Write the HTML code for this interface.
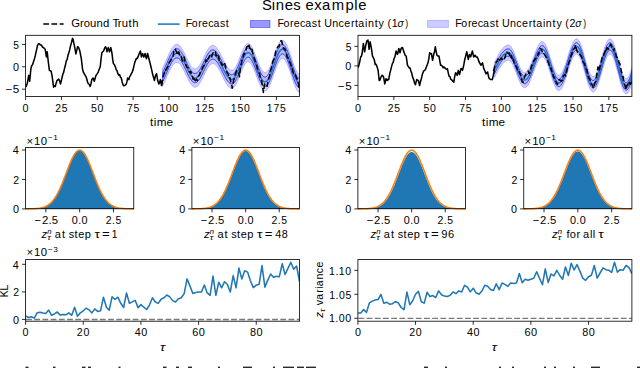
<!DOCTYPE html><html><head><meta charset="utf-8"><title>Sines example</title><style>html,body{margin:0;padding:0;background:#fff;overflow:hidden}svg{display:block}text{font-family:"Liberation Sans",sans-serif;fill:#000;font-variant-ligatures:none}</style></head><body>
<svg width="640" height="368" viewBox="0 0 640 368">
<rect width="640" height="368" fill="#fff"/>
<text transform="scale(0.99058,1)" x="264.51 274.36 278.46 287.47 296.17 303.58 308.46 317.28 325.05 335 348.75 357.75 361.72" y="10" font-size="15.02">Sines example</text>
<line x1="43.3" y1="23.9" x2="63.6" y2="23.9" stroke="#000" stroke-width="1.54" stroke-dasharray="5.7 2.47"/>
<text transform="scale(1.04910,1)" x="68 76.36 79.77 85.83 92.06 98.19 104.33 107.14 112.36 116.07 122.57 126.12" y="27" font-size="10.76">Ground Truth</text>
<line x1="157.9" y1="24.1" x2="179.6" y2="24.1" stroke="#1f77b4" stroke-width="1.54"/>
<text transform="scale(0.97692,1)" x="190.1 196.27 203.04 206.81 213.08 218.61 225.32 231.21" y="27" font-size="10.76">Forecast</text>
<rect x="250.5" y="20.5" width="19.5" height="7" fill="#0000ff" fill-opacity="0.4" stroke="#0000ff" stroke-opacity="0.4" stroke-width="1"/>
<text transform="scale(0.99566,1)" x="278.66 284.72 291.38 295.06 301.22 306.63 313.23 319.03 322.57 325.72 333.67 339.92 345.75 352.42 356.62 359.94 366.71 369.62 376.35 380.25 385.98 389.2 393.5" y="27" font-size="10.76">Forecast Uncertainty (1</text>
<text transform="scale(0.95470,1)" x="416.32" y="27" font-size="10.76" font-style="italic">σ</text>
<text transform="scale(0.80505,1)" x="503.39" y="27" font-size="10.76">)</text>
<rect x="427.6" y="20.4" width="20.8" height="7" fill="#0000ff" fill-opacity="0.2" stroke="#0000ff" stroke-opacity="0.2" stroke-width="1"/>
<text transform="scale(0.99604,1)" x="457.06 463.12 469.78 473.45 479.61 485.02 491.62 497.41 500.95 504.1 512.05 518.29 524.13 530.79 534.99 538.31 545.08 547.99 554.72 558.61 564.34 567.56 571.77" y="27" font-size="10.76">Forecast Uncertainty (2</text>
<text transform="scale(0.95470,1)" x="602.55" y="27" font-size="10.76" font-style="italic">σ</text>
<text transform="scale(0.80505,1)" x="724.49" y="27" font-size="10.76">)</text>
<clipPath id="clip1"><rect x="25.6" y="35.3" width="273.9" height="61.2"/></clipPath>
<g clip-path="url(#clip1)">
<polygon points="162.5,68.04 163.2,66.65 163.9,65.19 164.6,63.66 165.3,62.09 166,60.49 166.7,58.87 167.4,57.27 168.1,55.68 168.8,54.14 169.5,52.66 170.2,51.25 170.9,49.93 171.6,48.72 172.3,47.63 173,46.66 173.7,45.84 174.4,45.17 175.1,44.66 175.8,44.31 176.5,44.13 177.2,44.12 177.9,44.29 178.6,44.64 179.3,45.16 180,45.85 180.7,46.7 181.4,47.69 182.1,48.82 182.8,50.05 183.5,51.38 184.2,52.79 184.9,54.25 185.6,55.75 186.3,57.25 187,58.75 187.7,60.21 188.4,61.62 189.1,62.95 189.8,64.18 190.5,65.31 191.2,66.3 191.9,67.15 192.6,67.84 193.3,68.36 194,68.71 194.7,68.88 195.4,68.87 196.1,68.68 196.8,68.31 197.5,67.77 198.2,67.07 198.9,66.21 199.6,65.22 200.3,64.1 201,62.88 201.7,61.57 202.4,60.19 203.1,58.76 203.8,57.31 204.5,55.85 205.2,54.42 205.9,53.02 206.6,51.69 207.3,50.44 208,49.29 208.7,48.26 209.4,47.36 210.1,46.61 210.8,46.03 211.5,45.61 212.2,45.37 212.9,45.3 213.6,45.41 214.3,45.68 215,46.11 215.7,46.69 216.4,47.42 217.1,48.29 217.8,49.28 218.5,50.38 219.2,51.58 219.9,52.87 220.6,54.22 221.3,55.61 222,57.03 222.7,58.47 223.4,59.89 224.1,61.28 224.8,62.63 225.5,63.92 226.2,65.12 226.9,66.22 227.6,67.21 228.3,68.08 229,68.81 229.7,69.39 230.4,69.82 231.1,70.09 231.8,70.2 232.5,70.11 233.2,69.78 233.9,69.2 234.6,68.4 235.3,67.39 236,66.18 236.7,64.8 237.4,63.27 238.1,61.63 238.8,59.89 239.5,58.1 240.2,56.28 240.9,54.47 241.6,52.71 242.3,51.02 243,49.44 243.7,47.99 244.4,46.7 245.1,45.6 245.8,44.71 246.5,44.04 247.2,43.6 247.9,43.41 248.6,43.46 249.3,43.76 250,44.3 250.7,45.07 251.4,46.06 252.1,47.25 252.8,48.62 253.5,50.15 254.2,51.81 254.9,53.57 255.6,55.41 256.3,57.3 257,59.19 257.7,61.07 258.4,62.89 259.1,64.63 259.8,66.25 260.5,67.74 261.2,69.06 261.9,70.2 262.6,71.12 263.3,71.83 264,72.3 264.7,72.53 265.4,72.51 266.1,72.23 266.8,71.71 267.5,70.94 268.2,69.95 268.9,68.73 269.6,67.33 270.3,65.74 271,64.01 271.7,62.16 272.4,60.22 273.1,58.21 273.8,56.18 274.5,54.15 275.2,52.15 275.9,50.22 276.6,48.38 277.3,46.67 278,45.11 278.7,43.73 279.4,42.55 280.1,41.58 280.8,40.85 281.5,40.36 282.2,40.12 282.9,40.14 283.6,40.43 284.3,40.99 285,41.79 285.7,42.84 286.4,44.12 287.1,45.61 287.8,47.27 288.5,49.1 289.2,51.05 289.9,53.1 290.6,55.21 291.3,57.35 292,59.5 292.7,61.6 293.4,63.64 294.1,65.57 294.8,67.37 295.5,69.02 296.2,70.47 296.9,71.72 297.6,72.74 298.3,73.51 299,74.03 299.7,74.28 300.4,74.3 300.4,78.9 299.7,78.88 299,78.63 298.3,78.11 297.6,77.34 296.9,76.32 296.2,75.07 295.5,73.62 294.8,71.97 294.1,70.17 293.4,68.24 292.7,66.2 292,64.1 291.3,61.95 290.6,59.81 289.9,57.7 289.2,55.65 288.5,53.7 287.8,51.87 287.1,50.21 286.4,48.72 285.7,47.44 285,46.39 284.3,45.59 283.6,45.03 282.9,44.74 282.2,44.72 281.5,44.96 280.8,45.45 280.1,46.18 279.4,47.15 278.7,48.33 278,49.71 277.3,51.27 276.6,52.98 275.9,54.82 275.2,56.75 274.5,58.75 273.8,60.78 273.1,62.81 272.4,64.82 271.7,66.76 271,68.61 270.3,70.34 269.6,71.93 268.9,73.33 268.2,74.55 267.5,75.54 266.8,76.31 266.1,76.83 265.4,77.11 264.7,77.13 264,76.9 263.3,76.43 262.6,75.72 261.9,74.8 261.2,73.66 260.5,72.34 259.8,70.85 259.1,69.23 258.4,67.49 257.7,65.67 257,63.79 256.3,61.9 255.6,60.01 254.9,58.17 254.2,56.41 253.5,54.75 252.8,53.22 252.1,51.85 251.4,50.66 250.7,49.67 250,48.9 249.3,48.36 248.6,48.06 247.9,48.01 247.2,48.2 246.5,48.64 245.8,49.31 245.1,50.2 244.4,51.3 243.7,52.59 243,54.04 242.3,55.62 241.6,57.31 240.9,59.07 240.2,60.88 239.5,62.7 238.8,64.49 238.1,66.23 237.4,67.87 236.7,69.4 236,70.78 235.3,71.99 234.6,73 233.9,73.8 233.2,74.38 232.5,74.71 231.8,74.8 231.1,74.69 230.4,74.42 229.7,73.99 229,73.41 228.3,72.68 227.6,71.81 226.9,70.82 226.2,69.72 225.5,68.52 224.8,67.23 224.1,65.88 223.4,64.49 222.7,63.07 222,61.63 221.3,60.21 220.6,58.82 219.9,57.47 219.2,56.18 218.5,54.98 217.8,53.88 217.1,52.89 216.4,52.02 215.7,51.29 215,50.71 214.3,50.28 213.6,50.01 212.9,49.9 212.2,49.97 211.5,50.21 210.8,50.63 210.1,51.21 209.4,51.96 208.7,52.86 208,53.89 207.3,55.04 206.6,56.29 205.9,57.62 205.2,59.02 204.5,60.45 203.8,61.91 203.1,63.36 202.4,64.79 201.7,66.17 201,67.48 200.3,68.7 199.6,69.82 198.9,70.81 198.2,71.67 197.5,72.37 196.8,72.91 196.1,73.28 195.4,73.47 194.7,73.48 194,73.31 193.3,72.96 192.6,72.44 191.9,71.75 191.2,70.9 190.5,69.91 189.8,68.78 189.1,67.55 188.4,66.22 187.7,64.81 187,63.35 186.3,61.85 185.6,60.35 184.9,58.85 184.2,57.39 183.5,55.98 182.8,54.65 182.1,53.42 181.4,52.29 180.7,51.3 180,50.45 179.3,49.76 178.6,49.24 177.9,48.89 177.2,48.72 176.5,48.73 175.8,48.91 175.1,49.26 174.4,49.77 173.7,50.44 173,51.26 172.3,52.23 171.6,53.32 170.9,54.53 170.2,55.85 169.5,57.26 168.8,58.74 168.1,60.28 167.4,61.87 166.7,63.47 166,65.09 165.3,66.69 164.6,68.26 163.9,69.79 163.2,71.25 162.5,72.64" fill="#0000ff" fill-opacity="0.2" stroke="#0000ff" stroke-opacity="0.2" stroke-width="1"/>
<polygon points="162.5,81.84 163.2,80.45 163.9,78.99 164.6,77.46 165.3,75.89 166,74.29 166.7,72.67 167.4,71.07 168.1,69.48 168.8,67.94 169.5,66.46 170.2,65.05 170.9,63.73 171.6,62.52 172.3,61.43 173,60.46 173.7,59.64 174.4,58.97 175.1,58.46 175.8,58.11 176.5,57.93 177.2,57.92 177.9,58.09 178.6,58.44 179.3,58.96 180,59.65 180.7,60.5 181.4,61.49 182.1,62.62 182.8,63.85 183.5,65.18 184.2,66.59 184.9,68.05 185.6,69.55 186.3,71.05 187,72.55 187.7,74.01 188.4,75.42 189.1,76.75 189.8,77.98 190.5,79.11 191.2,80.1 191.9,80.95 192.6,81.64 193.3,82.16 194,82.51 194.7,82.68 195.4,82.67 196.1,82.48 196.8,82.11 197.5,81.57 198.2,80.87 198.9,80.01 199.6,79.02 200.3,77.9 201,76.68 201.7,75.37 202.4,73.99 203.1,72.56 203.8,71.11 204.5,69.65 205.2,68.22 205.9,66.82 206.6,65.49 207.3,64.24 208,63.09 208.7,62.06 209.4,61.16 210.1,60.41 210.8,59.83 211.5,59.41 212.2,59.17 212.9,59.1 213.6,59.21 214.3,59.48 215,59.91 215.7,60.49 216.4,61.22 217.1,62.09 217.8,63.08 218.5,64.18 219.2,65.38 219.9,66.67 220.6,68.02 221.3,69.41 222,70.83 222.7,72.27 223.4,73.69 224.1,75.08 224.8,76.43 225.5,77.72 226.2,78.92 226.9,80.02 227.6,81.01 228.3,81.88 229,82.61 229.7,83.19 230.4,83.62 231.1,83.89 231.8,84 232.5,83.91 233.2,83.58 233.9,83 234.6,82.2 235.3,81.19 236,79.98 236.7,78.6 237.4,77.07 238.1,75.43 238.8,73.69 239.5,71.9 240.2,70.08 240.9,68.27 241.6,66.51 242.3,64.82 243,63.24 243.7,61.79 244.4,60.5 245.1,59.4 245.8,58.51 246.5,57.84 247.2,57.4 247.9,57.21 248.6,57.26 249.3,57.56 250,58.1 250.7,58.87 251.4,59.86 252.1,61.05 252.8,62.42 253.5,63.95 254.2,65.61 254.9,67.37 255.6,69.21 256.3,71.1 257,72.99 257.7,74.87 258.4,76.69 259.1,78.43 259.8,80.05 260.5,81.54 261.2,82.86 261.9,84 262.6,84.92 263.3,85.63 264,86.1 264.7,86.33 265.4,86.31 266.1,86.03 266.8,85.51 267.5,84.74 268.2,83.75 268.9,82.53 269.6,81.13 270.3,79.54 271,77.81 271.7,75.96 272.4,74.02 273.1,72.01 273.8,69.98 274.5,67.95 275.2,65.95 275.9,64.02 276.6,62.18 277.3,60.47 278,58.91 278.7,57.53 279.4,56.35 280.1,55.38 280.8,54.65 281.5,54.16 282.2,53.92 282.9,53.94 283.6,54.23 284.3,54.79 285,55.59 285.7,56.64 286.4,57.92 287.1,59.41 287.8,61.07 288.5,62.9 289.2,64.85 289.9,66.9 290.6,69.01 291.3,71.15 292,73.3 292.7,75.4 293.4,77.44 294.1,79.37 294.8,81.17 295.5,82.82 296.2,84.27 296.9,85.52 297.6,86.54 298.3,87.31 299,87.83 299.7,88.08 300.4,88.1 300.4,92.7 299.7,92.68 299,92.43 298.3,91.91 297.6,91.14 296.9,90.12 296.2,88.87 295.5,87.42 294.8,85.77 294.1,83.97 293.4,82.04 292.7,80 292,77.9 291.3,75.75 290.6,73.61 289.9,71.5 289.2,69.45 288.5,67.5 287.8,65.67 287.1,64.01 286.4,62.52 285.7,61.24 285,60.19 284.3,59.39 283.6,58.83 282.9,58.54 282.2,58.52 281.5,58.76 280.8,59.25 280.1,59.98 279.4,60.95 278.7,62.13 278,63.51 277.3,65.07 276.6,66.78 275.9,68.62 275.2,70.55 274.5,72.55 273.8,74.58 273.1,76.61 272.4,78.62 271.7,80.56 271,82.41 270.3,84.14 269.6,85.73 268.9,87.13 268.2,88.35 267.5,89.34 266.8,90.11 266.1,90.63 265.4,90.91 264.7,90.93 264,90.7 263.3,90.23 262.6,89.52 261.9,88.6 261.2,87.46 260.5,86.14 259.8,84.65 259.1,83.03 258.4,81.29 257.7,79.47 257,77.59 256.3,75.7 255.6,73.81 254.9,71.97 254.2,70.21 253.5,68.55 252.8,67.02 252.1,65.65 251.4,64.46 250.7,63.47 250,62.7 249.3,62.16 248.6,61.86 247.9,61.81 247.2,62 246.5,62.44 245.8,63.11 245.1,64 244.4,65.1 243.7,66.39 243,67.84 242.3,69.42 241.6,71.11 240.9,72.87 240.2,74.68 239.5,76.5 238.8,78.29 238.1,80.03 237.4,81.67 236.7,83.2 236,84.58 235.3,85.79 234.6,86.8 233.9,87.6 233.2,88.18 232.5,88.51 231.8,88.6 231.1,88.49 230.4,88.22 229.7,87.79 229,87.21 228.3,86.48 227.6,85.61 226.9,84.62 226.2,83.52 225.5,82.32 224.8,81.03 224.1,79.68 223.4,78.29 222.7,76.87 222,75.43 221.3,74.01 220.6,72.62 219.9,71.27 219.2,69.98 218.5,68.78 217.8,67.68 217.1,66.69 216.4,65.82 215.7,65.09 215,64.51 214.3,64.08 213.6,63.81 212.9,63.7 212.2,63.77 211.5,64.01 210.8,64.43 210.1,65.01 209.4,65.76 208.7,66.66 208,67.69 207.3,68.84 206.6,70.09 205.9,71.42 205.2,72.82 204.5,74.25 203.8,75.71 203.1,77.16 202.4,78.59 201.7,79.97 201,81.28 200.3,82.5 199.6,83.62 198.9,84.61 198.2,85.47 197.5,86.17 196.8,86.71 196.1,87.08 195.4,87.27 194.7,87.28 194,87.11 193.3,86.76 192.6,86.24 191.9,85.55 191.2,84.7 190.5,83.71 189.8,82.58 189.1,81.35 188.4,80.02 187.7,78.61 187,77.15 186.3,75.65 185.6,74.15 184.9,72.65 184.2,71.19 183.5,69.78 182.8,68.45 182.1,67.22 181.4,66.09 180.7,65.1 180,64.25 179.3,63.56 178.6,63.04 177.9,62.69 177.2,62.52 176.5,62.53 175.8,62.71 175.1,63.06 174.4,63.57 173.7,64.24 173,65.06 172.3,66.03 171.6,67.12 170.9,68.33 170.2,69.65 169.5,71.06 168.8,72.54 168.1,74.08 167.4,75.67 166.7,77.27 166,78.89 165.3,80.49 164.6,82.06 163.9,83.59 163.2,85.05 162.5,86.44" fill="#0000ff" fill-opacity="0.2" stroke="#0000ff" stroke-opacity="0.2" stroke-width="1"/>
<polygon points="162.5,72.64 163.2,71.25 163.9,69.79 164.6,68.26 165.3,66.69 166,65.09 166.7,63.47 167.4,61.87 168.1,60.28 168.8,58.74 169.5,57.26 170.2,55.85 170.9,54.53 171.6,53.32 172.3,52.23 173,51.26 173.7,50.44 174.4,49.77 175.1,49.26 175.8,48.91 176.5,48.73 177.2,48.72 177.9,48.89 178.6,49.24 179.3,49.76 180,50.45 180.7,51.3 181.4,52.29 182.1,53.42 182.8,54.65 183.5,55.98 184.2,57.39 184.9,58.85 185.6,60.35 186.3,61.85 187,63.35 187.7,64.81 188.4,66.22 189.1,67.55 189.8,68.78 190.5,69.91 191.2,70.9 191.9,71.75 192.6,72.44 193.3,72.96 194,73.31 194.7,73.48 195.4,73.47 196.1,73.28 196.8,72.91 197.5,72.37 198.2,71.67 198.9,70.81 199.6,69.82 200.3,68.7 201,67.48 201.7,66.17 202.4,64.79 203.1,63.36 203.8,61.91 204.5,60.45 205.2,59.02 205.9,57.62 206.6,56.29 207.3,55.04 208,53.89 208.7,52.86 209.4,51.96 210.1,51.21 210.8,50.63 211.5,50.21 212.2,49.97 212.9,49.9 213.6,50.01 214.3,50.28 215,50.71 215.7,51.29 216.4,52.02 217.1,52.89 217.8,53.88 218.5,54.98 219.2,56.18 219.9,57.47 220.6,58.82 221.3,60.21 222,61.63 222.7,63.07 223.4,64.49 224.1,65.88 224.8,67.23 225.5,68.52 226.2,69.72 226.9,70.82 227.6,71.81 228.3,72.68 229,73.41 229.7,73.99 230.4,74.42 231.1,74.69 231.8,74.8 232.5,74.71 233.2,74.38 233.9,73.8 234.6,73 235.3,71.99 236,70.78 236.7,69.4 237.4,67.87 238.1,66.23 238.8,64.49 239.5,62.7 240.2,60.88 240.9,59.07 241.6,57.31 242.3,55.62 243,54.04 243.7,52.59 244.4,51.3 245.1,50.2 245.8,49.31 246.5,48.64 247.2,48.2 247.9,48.01 248.6,48.06 249.3,48.36 250,48.9 250.7,49.67 251.4,50.66 252.1,51.85 252.8,53.22 253.5,54.75 254.2,56.41 254.9,58.17 255.6,60.01 256.3,61.9 257,63.79 257.7,65.67 258.4,67.49 259.1,69.23 259.8,70.85 260.5,72.34 261.2,73.66 261.9,74.8 262.6,75.72 263.3,76.43 264,76.9 264.7,77.13 265.4,77.11 266.1,76.83 266.8,76.31 267.5,75.54 268.2,74.55 268.9,73.33 269.6,71.93 270.3,70.34 271,68.61 271.7,66.76 272.4,64.82 273.1,62.81 273.8,60.78 274.5,58.75 275.2,56.75 275.9,54.82 276.6,52.98 277.3,51.27 278,49.71 278.7,48.33 279.4,47.15 280.1,46.18 280.8,45.45 281.5,44.96 282.2,44.72 282.9,44.74 283.6,45.03 284.3,45.59 285,46.39 285.7,47.44 286.4,48.72 287.1,50.21 287.8,51.87 288.5,53.7 289.2,55.65 289.9,57.7 290.6,59.81 291.3,61.95 292,64.1 292.7,66.2 293.4,68.24 294.1,70.17 294.8,71.97 295.5,73.62 296.2,75.07 296.9,76.32 297.6,77.34 298.3,78.11 299,78.63 299.7,78.88 300.4,78.9 300.4,88.1 299.7,88.08 299,87.83 298.3,87.31 297.6,86.54 296.9,85.52 296.2,84.27 295.5,82.82 294.8,81.17 294.1,79.37 293.4,77.44 292.7,75.4 292,73.3 291.3,71.15 290.6,69.01 289.9,66.9 289.2,64.85 288.5,62.9 287.8,61.07 287.1,59.41 286.4,57.92 285.7,56.64 285,55.59 284.3,54.79 283.6,54.23 282.9,53.94 282.2,53.92 281.5,54.16 280.8,54.65 280.1,55.38 279.4,56.35 278.7,57.53 278,58.91 277.3,60.47 276.6,62.18 275.9,64.02 275.2,65.95 274.5,67.95 273.8,69.98 273.1,72.01 272.4,74.02 271.7,75.96 271,77.81 270.3,79.54 269.6,81.13 268.9,82.53 268.2,83.75 267.5,84.74 266.8,85.51 266.1,86.03 265.4,86.31 264.7,86.33 264,86.1 263.3,85.63 262.6,84.92 261.9,84 261.2,82.86 260.5,81.54 259.8,80.05 259.1,78.43 258.4,76.69 257.7,74.87 257,72.99 256.3,71.1 255.6,69.21 254.9,67.37 254.2,65.61 253.5,63.95 252.8,62.42 252.1,61.05 251.4,59.86 250.7,58.87 250,58.1 249.3,57.56 248.6,57.26 247.9,57.21 247.2,57.4 246.5,57.84 245.8,58.51 245.1,59.4 244.4,60.5 243.7,61.79 243,63.24 242.3,64.82 241.6,66.51 240.9,68.27 240.2,70.08 239.5,71.9 238.8,73.69 238.1,75.43 237.4,77.07 236.7,78.6 236,79.98 235.3,81.19 234.6,82.2 233.9,83 233.2,83.58 232.5,83.91 231.8,84 231.1,83.89 230.4,83.62 229.7,83.19 229,82.61 228.3,81.88 227.6,81.01 226.9,80.02 226.2,78.92 225.5,77.72 224.8,76.43 224.1,75.08 223.4,73.69 222.7,72.27 222,70.83 221.3,69.41 220.6,68.02 219.9,66.67 219.2,65.38 218.5,64.18 217.8,63.08 217.1,62.09 216.4,61.22 215.7,60.49 215,59.91 214.3,59.48 213.6,59.21 212.9,59.1 212.2,59.17 211.5,59.41 210.8,59.83 210.1,60.41 209.4,61.16 208.7,62.06 208,63.09 207.3,64.24 206.6,65.49 205.9,66.82 205.2,68.22 204.5,69.65 203.8,71.11 203.1,72.56 202.4,73.99 201.7,75.37 201,76.68 200.3,77.9 199.6,79.02 198.9,80.01 198.2,80.87 197.5,81.57 196.8,82.11 196.1,82.48 195.4,82.67 194.7,82.68 194,82.51 193.3,82.16 192.6,81.64 191.9,80.95 191.2,80.1 190.5,79.11 189.8,77.98 189.1,76.75 188.4,75.42 187.7,74.01 187,72.55 186.3,71.05 185.6,69.55 184.9,68.05 184.2,66.59 183.5,65.18 182.8,63.85 182.1,62.62 181.4,61.49 180.7,60.5 180,59.65 179.3,58.96 178.6,58.44 177.9,58.09 177.2,57.92 176.5,57.93 175.8,58.11 175.1,58.46 174.4,58.97 173.7,59.64 173,60.46 172.3,61.43 171.6,62.52 170.9,63.73 170.2,65.05 169.5,66.46 168.8,67.94 168.1,69.48 167.4,71.07 166.7,72.67 166,74.29 165.3,75.89 164.6,77.46 163.9,78.99 163.2,80.45 162.5,81.84" fill="#0000ff" fill-opacity="0.28" stroke="#0000ff" stroke-opacity="0.58" stroke-width="1"/>
<polyline points="25.6,86.6 26.35,86.4 27.5,82.2 28.7,75.4 29.7,81.3 30.9,68.7 31.73,65.73 32.57,64.65 33.4,62 34.4,58.9 35.4,55.2 36.5,50.1 37.6,45.1 38.45,43.83 39.3,43.8 40.4,45.09 41.5,45.1 42.5,47.03 43.5,47.6 44.35,48.48 45.2,49.3 46.4,56.9 47.2,51.8 48.3,62 49.4,70.4 50.25,70.81 51.1,71.2 51.8,74.42 52.5,78.8 53.6,87.2 54.45,85.71 55.3,86.4 56.15,83.17 57,80.5 57.85,79.99 58.7,79.1 59.55,80.55 60.4,83.9 61.25,81.15 62.1,77.1 62.92,74.01 63.75,72.1 64.58,68.11 65.4,65.3 66.27,60.93 67.13,59.66 68,55.2 68.83,52.66 69.67,49.89 70.5,46 71.5,42.45 72.5,38.4 73.2,39.87 73.9,43.4 74.9,48.27 75.9,53.9 76.75,50.34 77.6,46.8 78.45,47.2 79.3,49.3 80,51.8 81.3,58.6 82.5,68.7 83.35,72.22 84.2,73.75 85.03,75.14 85.87,76.36 86.7,78.8 87.55,82.05 88.4,83.9 89.25,84.32 90.1,86.4 90.95,83.94 91.8,79.6 93.1,78 94.3,81.3 95.15,78.25 96,75.4 97.1,73.86 98.2,72.1 99.2,69.2 100.2,67 101.1,58.6 101.9,52.7 102.75,51.82 103.6,51 104.6,48.21 105.6,46.8 106.3,48.28 107,51.8 108.3,47.6 109.5,51.8 110.8,47.6 112,53.5 112.7,59.35 113.4,63.6 114.4,64.72 115.4,67 116.23,69.87 117.07,70.86 117.9,73.75 118.75,75.21 119.6,74.6 120.45,77.17 121.3,78 122.15,81.91 123,84.7 123.83,85.68 124.65,85.5 125.47,84.88 126.3,83.9 127,81.46 127.7,78 128.9,79.6 129.7,76.67 130.5,75.4 131.35,73.7 132.2,72.1 133.05,69.87 133.9,66.2 134.75,62.59 135.6,60.3 136.3,58.6 137.15,58.68 138,56.9 139.2,53.5 140.4,51 141.4,56.9 142.6,53.5 143.8,56.9 145.1,53.5 145.8,56.9 146.5,58.6 147.6,53.5 148.45,56.7 149.3,60.3 150.15,63.35 151,67 151.85,70.69 152.7,74.6 153.55,77.3 154.4,80.5 155.6,75.4 156.6,73.75 157.7,80.5 158.9,83.9 159.6,82.84 160.3,79.6 161.6,85.5 162.5,80" fill="none" stroke="#000" stroke-width="1.54" stroke-linejoin="round"/>
<polyline points="162.5,77.24 163.2,75.85 163.9,74.39 164.6,72.86 165.3,71.29 166,69.69 166.7,68.07 167.4,66.47 168.1,64.88 168.8,63.34 169.5,61.86 170.2,60.45 170.9,59.13 171.6,57.92 172.3,56.83 173,55.86 173.7,55.04 174.4,54.37 175.1,53.86 175.8,53.51 176.5,53.33 177.2,53.32 177.9,53.49 178.6,53.84 179.3,54.36 180,55.05 180.7,55.9 181.4,56.89 182.1,58.02 182.8,59.25 183.5,60.58 184.2,61.99 184.9,63.45 185.6,64.95 186.3,66.45 187,67.95 187.7,69.41 188.4,70.82 189.1,72.15 189.8,73.38 190.5,74.51 191.2,75.5 191.9,76.35 192.6,77.04 193.3,77.56 194,77.91 194.7,78.08 195.4,78.07 196.1,77.88 196.8,77.51 197.5,76.97 198.2,76.27 198.9,75.41 199.6,74.42 200.3,73.3 201,72.08 201.7,70.77 202.4,69.39 203.1,67.96 203.8,66.51 204.5,65.05 205.2,63.62 205.9,62.22 206.6,60.89 207.3,59.64 208,58.49 208.7,57.46 209.4,56.56 210.1,55.81 210.8,55.23 211.5,54.81 212.2,54.57 212.9,54.5 213.6,54.61 214.3,54.88 215,55.31 215.7,55.89 216.4,56.62 217.1,57.49 217.8,58.48 218.5,59.58 219.2,60.78 219.9,62.07 220.6,63.42 221.3,64.81 222,66.23 222.7,67.67 223.4,69.09 224.1,70.48 224.8,71.83 225.5,73.12 226.2,74.32 226.9,75.42 227.6,76.41 228.3,77.28 229,78.01 229.7,78.59 230.4,79.02 231.1,79.29 231.8,79.4 232.5,79.31 233.2,78.98 233.9,78.4 234.6,77.6 235.3,76.59 236,75.38 236.7,74 237.4,72.47 238.1,70.83 238.8,69.09 239.5,67.3 240.2,65.48 240.9,63.67 241.6,61.91 242.3,60.22 243,58.64 243.7,57.19 244.4,55.9 245.1,54.8 245.8,53.91 246.5,53.24 247.2,52.8 247.9,52.61 248.6,52.66 249.3,52.96 250,53.5 250.7,54.27 251.4,55.26 252.1,56.45 252.8,57.82 253.5,59.35 254.2,61.01 254.9,62.77 255.6,64.61 256.3,66.5 257,68.39 257.7,70.27 258.4,72.09 259.1,73.83 259.8,75.45 260.5,76.94 261.2,78.26 261.9,79.4 262.6,80.32 263.3,81.03 264,81.5 264.7,81.73 265.4,81.71 266.1,81.43 266.8,80.91 267.5,80.14 268.2,79.15 268.9,77.93 269.6,76.53 270.3,74.94 271,73.21 271.7,71.36 272.4,69.42 273.1,67.41 273.8,65.38 274.5,63.35 275.2,61.35 275.9,59.42 276.6,57.58 277.3,55.87 278,54.31 278.7,52.93 279.4,51.75 280.1,50.78 280.8,50.05 281.5,49.56 282.2,49.32 282.9,49.34 283.6,49.63 284.3,50.19 285,50.99 285.7,52.04 286.4,53.32 287.1,54.81 287.8,56.47 288.5,58.3 289.2,60.25 289.9,62.3 290.6,64.41 291.3,66.55 292,68.7 292.7,70.8 293.4,72.84 294.1,74.77 294.8,76.57 295.5,78.22 296.2,79.67 296.9,80.92 297.6,81.94 298.3,82.71 299,83.23 299.7,83.48 300.4,83.5" fill="none" stroke="#1f77b4" stroke-width="1.54"/>
<polyline points="161.6,85.5 162.25,81.01 162.9,76.9 163.65,74.94 164.4,72.5 165.13,72.96 165.87,69.9 166.6,68.8 167.33,67.36 168.07,66.22 168.8,64.4 169.53,61.67 170.27,61.51 171,60 171.73,59.05 172.47,58.24 173.2,55.6 173.95,50.68 174.7,49 175.4,49.31 176.1,51.2 176.7,51.41 177.3,54.9 178.05,54.64 178.8,51.9 179.65,55.22 180.5,57 181.25,56.67 182,60 182.73,60.93 183.47,59.86 184.2,57 184.95,60.97 185.7,63.7 186.4,65.96 187.1,67.3 187.83,67.4 188.57,68.29 189.3,71.7 190.03,72.55 190.77,71.4 191.5,73.9 192.25,75.21 193,79 193.63,78.97 194.27,79.12 194.9,82 195.65,80.36 196.4,79 197.2,80.5 197.95,77.71 198.7,75.4 199.43,75.3 200.17,72.54 200.9,71 201.63,70.09 202.37,68.07 203.1,66.6 203.83,65.78 204.57,63.5 205.3,62.2 206.03,59.85 206.77,61.26 207.5,57.8 208.23,59.05 208.97,57.69 209.7,55.6 210.55,57.53 211.4,57.8 212.15,54.86 212.9,53.4 213.53,52.09 214.17,52.09 214.8,52.7 215.43,51.95 216.07,55.7 216.7,55.6 217.45,54.45 218.2,54.1 219.2,60 219.93,62.62 220.67,62.01 221.4,63.7 222.13,65.27 222.87,64.56 223.6,62.9 224.33,62.37 225.07,64.67 225.8,67.3 226.7,71.89 227.6,73.2 228.23,74.31 228.87,77.59 229.5,76.9 230.2,79.04 230.9,82 231.55,83.39 232.2,88.2 232.9,84.72 233.6,80.2 234.25,78.81 234.9,75.2 235.7,72.91 236.5,70.82 237.3,71.1 237.9,70.88 238.5,72 239.5,76.8 240.6,65.4 241.4,63.96 242.2,58.8 242.93,58.23 243.67,54.07 244.4,54 245.2,50.94 246,49.9 246.8,46.65 247.6,46.6 248.2,44.04 248.8,45 249.9,48.2 250.55,48.99 251.2,47.4 251.85,48.56 252.5,52.3 253.3,55.39 254.1,58 254.95,60.24 255.8,62.9 256.6,64.51 257.4,68.6 258.2,71.58 259,72.7 259.67,73.66 260.33,78.14 261,80 261.65,80.92 262.3,84.9 263.4,92.5 264,87.98 264.6,84.1 265.4,83.35 266.2,84.9 267.1,86.3 267.9,81.58 268.7,78.7 269.55,76.38 270.4,70.3 271.25,68.56 272.1,64.4 272.95,61.07 273.8,59.3 274.65,57.44 275.5,52.5 276.33,49.38 277.17,48.14 278,46.6 278.85,46.77 279.7,44.1 280.3,42.97 280.9,40.7 281.75,41.25 282.6,45 283.45,48.61 284.3,48.3 285.03,49.12 285.77,51.27 286.5,54.2 287.33,57.56 288.17,58.05 289,61 289.83,62.42 290.67,63.76 291.5,67.7 292.33,68.33 293.17,72.56 294,74.5 294.85,73.87 295.7,75.3 296.37,77.67 297.03,78.72 297.7,81.2 298.43,83.81 299.17,88.64 299.9,89.6 301,92" fill="none" stroke="#000" stroke-width="1.54" stroke-dasharray="5.7 2.47" stroke-linejoin="round"/>
</g>
<rect x="25.6" y="35.3" width="273.9" height="61.2" fill="none" stroke="#000" stroke-width="0.82"/>
<line x1="25.6" y1="96.5" x2="25.6" y2="100.09" stroke="#000" stroke-width="0.82"/>
<text transform="scale(1.00394,1)" x="22.51" y="112" font-size="10.76">0</text>
<line x1="61.43" y1="96.5" x2="61.43" y2="100.09" stroke="#000" stroke-width="0.82"/>
<text transform="scale(0.95738,1)" x="57.7 64.61" y="112" font-size="10.76">25</text>
<line x1="97.27" y1="96.5" x2="97.27" y2="100.09" stroke="#000" stroke-width="0.82"/>
<text transform="scale(0.97582,1)" x="93.24 99.96" y="112" font-size="10.76">50</text>
<line x1="133.1" y1="96.5" x2="133.1" y2="100.09" stroke="#000" stroke-width="0.82"/>
<text transform="scale(0.96440,1)" x="131.64 138.38" y="112" font-size="10.76">75</text>
<line x1="168.93" y1="96.5" x2="168.93" y2="100.09" stroke="#000" stroke-width="0.82"/>
<text transform="scale(0.98993,1)" x="160.79 167.43 174.02" y="112" font-size="10.76">100</text>
<line x1="204.76" y1="96.5" x2="204.76" y2="100.09" stroke="#000" stroke-width="0.82"/>
<text transform="scale(0.95785,1)" x="203.8 210.52 217.42" y="112" font-size="10.76">125</text>
<line x1="240.59" y1="96.5" x2="240.59" y2="100.09" stroke="#000" stroke-width="0.82"/>
<text transform="scale(0.97053,1)" x="237.9 244.63 251.39" y="112" font-size="10.76">150</text>
<line x1="276.43" y1="96.5" x2="276.43" y2="100.09" stroke="#000" stroke-width="0.82"/>
<text transform="scale(0.96264,1)" x="277.22 284.02 290.77" y="112" font-size="10.76">175</text>
<line x1="22.01" y1="44.45" x2="25.6" y2="44.45" stroke="#000" stroke-width="0.82"/>
<text transform="scale(0.94748,1)" x="14.04" y="49" font-size="10.76">5</text>
<line x1="22.01" y1="66.75" x2="25.6" y2="66.75" stroke="#000" stroke-width="0.82"/>
<text transform="scale(1.00394,1)" x="12.91" y="71" font-size="10.76">0</text>
<line x1="22.01" y1="89.2" x2="25.6" y2="89.2" stroke="#000" stroke-width="0.82"/>
<text transform="scale(1.08899,1)" x="4.78 11.83" y="93" font-size="10.76">−5</text>
<text transform="scale(1.09283,1)" x="137.26 140.73 143.34 152.28" y="126" font-size="10.76">time</text>
<clipPath id="clip2"><rect x="358" y="35.3" width="273.9" height="61.2"/></clipPath>
<g clip-path="url(#clip2)">
<polygon points="494.4,62.3 495.1,60.93 495.8,59.58 496.5,58.24 497.2,56.92 497.9,55.64 498.6,54.4 499.3,53.21 500,52.07 500.7,51 501.4,50 502.1,49.07 502.8,48.22 503.5,47.46 504.2,46.8 504.9,46.22 505.6,45.75 506.3,45.38 507,45.11 507.7,44.95 508.4,44.9 509.1,45.02 509.8,45.4 510.5,46.01 511.2,46.85 511.9,47.91 512.6,49.16 513.3,50.59 514,52.16 514.7,53.85 515.4,55.63 516.1,57.46 516.8,59.31 517.5,61.15 518.2,62.95 518.9,64.67 519.6,66.28 520.3,67.75 521,69.05 521.7,70.16 522.4,71.07 523.1,71.75 523.8,72.19 524.5,72.39 525.2,72.34 525.9,72.05 526.6,71.52 527.3,70.77 528,69.8 528.7,68.64 529.4,67.29 530.1,65.78 530.8,64.14 531.5,62.38 532.2,60.54 532.9,58.65 533.6,56.73 534.3,54.81 535,52.93 535.7,51.11 536.4,49.38 537.1,47.77 537.8,46.31 538.5,45.01 539.2,43.9 539.9,42.99 540.6,42.3 541.3,41.84 542,41.62 542.7,41.65 543.4,41.97 544.1,42.59 544.8,43.48 545.5,44.65 546.2,46.06 546.9,47.69 547.6,49.52 548.3,51.5 549,53.61 549.7,55.81 550.4,58.05 551.1,60.3 551.8,62.51 552.5,64.66 553.2,66.69 553.9,68.57 554.6,70.28 555.3,71.77 556,73.03 556.7,74.03 557.4,74.74 558.1,75.17 558.8,75.3 559.5,75.14 560.2,74.71 560.9,74.01 561.6,73.05 562.3,71.84 563,70.41 563.7,68.78 564.4,66.97 565.1,65.01 565.8,62.93 566.5,60.76 567.2,58.53 567.9,56.28 568.6,54.03 569.3,51.84 570,49.72 570.7,47.71 571.4,45.84 572.1,44.15 572.8,42.64 573.5,41.36 574.2,40.31 574.9,39.51 575.6,38.98 576.3,38.73 577,38.75 577.7,39.11 578.4,39.8 579.1,40.8 579.8,42.11 580.5,43.68 581.2,45.51 581.9,47.55 582.6,49.76 583.3,52.12 584,54.58 584.7,57.08 585.4,59.6 586.1,62.09 586.8,64.49 587.5,66.77 588.2,68.89 588.9,70.81 589.6,72.5 590.3,73.92 591,75.06 591.7,75.88 592.4,76.38 593.1,76.55 593.8,76.39 594.5,75.91 595.2,75.13 595.9,74.04 596.6,72.68 597.3,71.07 598,69.23 598.7,67.19 599.4,64.99 600.1,62.66 600.8,60.25 601.5,57.8 602.2,55.34 602.9,52.93 603.6,50.59 604.3,48.37 605,46.3 605.7,44.43 606.4,42.78 607.1,41.38 607.8,40.26 608.5,39.43 609.2,38.91 609.9,38.7 610.6,38.83 611.3,39.33 612,40.18 612.7,41.36 613.4,42.87 614.1,44.66 614.8,46.71 615.5,48.98 616.2,51.43 616.9,54.01 617.6,56.67 618.3,59.38 619,62.07 619.7,64.7 620.4,67.22 621.1,69.58 621.8,71.74 622.5,73.67 623.2,75.32 623.9,76.67 624.6,77.69 625.3,78.36 626,78.68 626.7,78.62 627.4,78.17 628.1,77.34 628.8,76.14 629.5,74.6 630.2,72.75 630.9,70.62 631.6,68.25 632.3,65.69 633,62.99 633,66.99 632.3,69.69 631.6,72.25 630.9,74.62 630.2,76.75 629.5,78.6 628.8,80.14 628.1,81.34 627.4,82.17 626.7,82.62 626,82.68 625.3,82.36 624.6,81.69 623.9,80.67 623.2,79.32 622.5,77.67 621.8,75.74 621.1,73.58 620.4,71.22 619.7,68.7 619,66.07 618.3,63.38 617.6,60.67 616.9,58.01 616.2,55.43 615.5,52.98 614.8,50.71 614.1,48.66 613.4,46.87 612.7,45.36 612,44.18 611.3,43.33 610.6,42.83 609.9,42.7 609.2,42.91 608.5,43.43 607.8,44.26 607.1,45.38 606.4,46.78 605.7,48.43 605,50.3 604.3,52.37 603.6,54.59 602.9,56.93 602.2,59.34 601.5,61.8 600.8,64.25 600.1,66.66 599.4,68.99 598.7,71.19 598,73.23 597.3,75.07 596.6,76.68 595.9,78.04 595.2,79.13 594.5,79.91 593.8,80.39 593.1,80.55 592.4,80.38 591.7,79.88 591,79.06 590.3,77.92 589.6,76.5 588.9,74.81 588.2,72.89 587.5,70.77 586.8,68.49 586.1,66.09 585.4,63.6 584.7,61.08 584,58.58 583.3,56.12 582.6,53.76 581.9,51.55 581.2,49.51 580.5,47.68 579.8,46.11 579.1,44.8 578.4,43.8 577.7,43.11 577,42.75 576.3,42.73 575.6,42.98 574.9,43.51 574.2,44.31 573.5,45.36 572.8,46.64 572.1,48.15 571.4,49.84 570.7,51.71 570,53.72 569.3,55.84 568.6,58.03 567.9,60.28 567.2,62.53 566.5,64.76 565.8,66.93 565.1,69.01 564.4,70.97 563.7,72.78 563,74.41 562.3,75.84 561.6,77.05 560.9,78.01 560.2,78.71 559.5,79.14 558.8,79.3 558.1,79.17 557.4,78.74 556.7,78.03 556,77.03 555.3,75.77 554.6,74.28 553.9,72.57 553.2,70.69 552.5,68.66 551.8,66.51 551.1,64.3 550.4,62.05 549.7,59.81 549,57.61 548.3,55.5 547.6,53.52 546.9,51.69 546.2,50.06 545.5,48.65 544.8,47.48 544.1,46.59 543.4,45.97 542.7,45.65 542,45.62 541.3,45.84 540.6,46.3 539.9,46.99 539.2,47.9 538.5,49.01 537.8,50.31 537.1,51.77 536.4,53.38 535.7,55.11 535,56.93 534.3,58.81 533.6,60.73 532.9,62.65 532.2,64.54 531.5,66.38 530.8,68.14 530.1,69.78 529.4,71.29 528.7,72.64 528,73.8 527.3,74.77 526.6,75.52 525.9,76.05 525.2,76.34 524.5,76.39 523.8,76.19 523.1,75.75 522.4,75.07 521.7,74.16 521,73.05 520.3,71.75 519.6,70.28 518.9,68.67 518.2,66.95 517.5,65.15 516.8,63.31 516.1,61.46 515.4,59.63 514.7,57.85 514,56.16 513.3,54.59 512.6,53.16 511.9,51.91 511.2,50.85 510.5,50.01 509.8,49.4 509.1,49.02 508.4,48.9 507.7,48.95 507,49.11 506.3,49.38 505.6,49.75 504.9,50.22 504.2,50.8 503.5,51.46 502.8,52.22 502.1,53.07 501.4,54 500.7,55 500,56.07 499.3,57.21 498.6,58.4 497.9,59.64 497.2,60.92 496.5,62.24 495.8,63.58 495.1,64.93 494.4,66.3" fill="#0000ff" fill-opacity="0.2" stroke="#0000ff" stroke-opacity="0.2" stroke-width="1"/>
<polygon points="494.4,73.7 495.1,72.33 495.8,70.98 496.5,69.64 497.2,68.32 497.9,67.04 498.6,65.8 499.3,64.61 500,63.47 500.7,62.4 501.4,61.4 502.1,60.47 502.8,59.62 503.5,58.86 504.2,58.2 504.9,57.62 505.6,57.15 506.3,56.78 507,56.51 507.7,56.35 508.4,56.3 509.1,56.42 509.8,56.8 510.5,57.41 511.2,58.25 511.9,59.31 512.6,60.56 513.3,61.99 514,63.56 514.7,65.25 515.4,67.03 516.1,68.86 516.8,70.71 517.5,72.55 518.2,74.35 518.9,76.07 519.6,77.68 520.3,79.15 521,80.45 521.7,81.56 522.4,82.47 523.1,83.15 523.8,83.59 524.5,83.79 525.2,83.74 525.9,83.45 526.6,82.92 527.3,82.17 528,81.2 528.7,80.04 529.4,78.69 530.1,77.18 530.8,75.54 531.5,73.78 532.2,71.94 532.9,70.05 533.6,68.13 534.3,66.21 535,64.33 535.7,62.51 536.4,60.78 537.1,59.17 537.8,57.71 538.5,56.41 539.2,55.3 539.9,54.39 540.6,53.7 541.3,53.24 542,53.02 542.7,53.05 543.4,53.37 544.1,53.99 544.8,54.88 545.5,56.05 546.2,57.46 546.9,59.09 547.6,60.92 548.3,62.9 549,65.01 549.7,67.21 550.4,69.45 551.1,71.7 551.8,73.91 552.5,76.06 553.2,78.09 553.9,79.97 554.6,81.68 555.3,83.17 556,84.43 556.7,85.43 557.4,86.14 558.1,86.57 558.8,86.7 559.5,86.54 560.2,86.11 560.9,85.41 561.6,84.45 562.3,83.24 563,81.81 563.7,80.18 564.4,78.37 565.1,76.41 565.8,74.33 566.5,72.16 567.2,69.93 567.9,67.68 568.6,65.43 569.3,63.24 570,61.12 570.7,59.11 571.4,57.24 572.1,55.55 572.8,54.04 573.5,52.76 574.2,51.71 574.9,50.91 575.6,50.38 576.3,50.13 577,50.15 577.7,50.51 578.4,51.2 579.1,52.2 579.8,53.51 580.5,55.08 581.2,56.91 581.9,58.95 582.6,61.16 583.3,63.52 584,65.98 584.7,68.48 585.4,71 586.1,73.49 586.8,75.89 587.5,78.17 588.2,80.29 588.9,82.21 589.6,83.9 590.3,85.32 591,86.46 591.7,87.28 592.4,87.78 593.1,87.95 593.8,87.79 594.5,87.31 595.2,86.53 595.9,85.44 596.6,84.08 597.3,82.47 598,80.63 598.7,78.59 599.4,76.39 600.1,74.06 600.8,71.65 601.5,69.2 602.2,66.74 602.9,64.33 603.6,61.99 604.3,59.77 605,57.7 605.7,55.83 606.4,54.18 607.1,52.78 607.8,51.66 608.5,50.83 609.2,50.31 609.9,50.1 610.6,50.23 611.3,50.73 612,51.58 612.7,52.76 613.4,54.27 614.1,56.06 614.8,58.11 615.5,60.38 616.2,62.83 616.9,65.41 617.6,68.07 618.3,70.78 619,73.47 619.7,76.1 620.4,78.62 621.1,80.98 621.8,83.14 622.5,85.07 623.2,86.72 623.9,88.07 624.6,89.09 625.3,89.76 626,90.08 626.7,90.02 627.4,89.57 628.1,88.74 628.8,87.54 629.5,86 630.2,84.15 630.9,82.02 631.6,79.65 632.3,77.09 633,74.39 633,78.39 632.3,81.09 631.6,83.65 630.9,86.02 630.2,88.15 629.5,90 628.8,91.54 628.1,92.74 627.4,93.57 626.7,94.02 626,94.08 625.3,93.76 624.6,93.09 623.9,92.07 623.2,90.72 622.5,89.07 621.8,87.14 621.1,84.98 620.4,82.62 619.7,80.1 619,77.47 618.3,74.78 617.6,72.07 616.9,69.41 616.2,66.83 615.5,64.38 614.8,62.11 614.1,60.06 613.4,58.27 612.7,56.76 612,55.58 611.3,54.73 610.6,54.23 609.9,54.1 609.2,54.31 608.5,54.83 607.8,55.66 607.1,56.78 606.4,58.18 605.7,59.83 605,61.7 604.3,63.77 603.6,65.99 602.9,68.33 602.2,70.74 601.5,73.2 600.8,75.65 600.1,78.06 599.4,80.39 598.7,82.59 598,84.63 597.3,86.47 596.6,88.08 595.9,89.44 595.2,90.53 594.5,91.31 593.8,91.79 593.1,91.95 592.4,91.78 591.7,91.28 591,90.46 590.3,89.32 589.6,87.9 588.9,86.21 588.2,84.29 587.5,82.17 586.8,79.89 586.1,77.49 585.4,75 584.7,72.48 584,69.98 583.3,67.52 582.6,65.16 581.9,62.95 581.2,60.91 580.5,59.08 579.8,57.51 579.1,56.2 578.4,55.2 577.7,54.51 577,54.15 576.3,54.13 575.6,54.38 574.9,54.91 574.2,55.71 573.5,56.76 572.8,58.04 572.1,59.55 571.4,61.24 570.7,63.11 570,65.12 569.3,67.24 568.6,69.43 567.9,71.68 567.2,73.93 566.5,76.16 565.8,78.33 565.1,80.41 564.4,82.37 563.7,84.18 563,85.81 562.3,87.24 561.6,88.45 560.9,89.41 560.2,90.11 559.5,90.54 558.8,90.7 558.1,90.57 557.4,90.14 556.7,89.43 556,88.43 555.3,87.17 554.6,85.68 553.9,83.97 553.2,82.09 552.5,80.06 551.8,77.91 551.1,75.7 550.4,73.45 549.7,71.21 549,69.01 548.3,66.9 547.6,64.92 546.9,63.09 546.2,61.46 545.5,60.05 544.8,58.88 544.1,57.99 543.4,57.37 542.7,57.05 542,57.02 541.3,57.24 540.6,57.7 539.9,58.39 539.2,59.3 538.5,60.41 537.8,61.71 537.1,63.17 536.4,64.78 535.7,66.51 535,68.33 534.3,70.21 533.6,72.13 532.9,74.05 532.2,75.94 531.5,77.78 530.8,79.54 530.1,81.18 529.4,82.69 528.7,84.04 528,85.2 527.3,86.17 526.6,86.92 525.9,87.45 525.2,87.74 524.5,87.79 523.8,87.59 523.1,87.15 522.4,86.47 521.7,85.56 521,84.45 520.3,83.15 519.6,81.68 518.9,80.07 518.2,78.35 517.5,76.55 516.8,74.71 516.1,72.86 515.4,71.03 514.7,69.25 514,67.56 513.3,65.99 512.6,64.56 511.9,63.31 511.2,62.25 510.5,61.41 509.8,60.8 509.1,60.42 508.4,60.3 507.7,60.35 507,60.51 506.3,60.78 505.6,61.15 504.9,61.62 504.2,62.2 503.5,62.86 502.8,63.62 502.1,64.47 501.4,65.4 500.7,66.4 500,67.47 499.3,68.61 498.6,69.8 497.9,71.04 497.2,72.32 496.5,73.64 495.8,74.98 495.1,76.33 494.4,77.7" fill="#0000ff" fill-opacity="0.2" stroke="#0000ff" stroke-opacity="0.2" stroke-width="1"/>
<polygon points="494.4,66.3 495.1,64.93 495.8,63.58 496.5,62.24 497.2,60.92 497.9,59.64 498.6,58.4 499.3,57.21 500,56.07 500.7,55 501.4,54 502.1,53.07 502.8,52.22 503.5,51.46 504.2,50.8 504.9,50.22 505.6,49.75 506.3,49.38 507,49.11 507.7,48.95 508.4,48.9 509.1,49.02 509.8,49.4 510.5,50.01 511.2,50.85 511.9,51.91 512.6,53.16 513.3,54.59 514,56.16 514.7,57.85 515.4,59.63 516.1,61.46 516.8,63.31 517.5,65.15 518.2,66.95 518.9,68.67 519.6,70.28 520.3,71.75 521,73.05 521.7,74.16 522.4,75.07 523.1,75.75 523.8,76.19 524.5,76.39 525.2,76.34 525.9,76.05 526.6,75.52 527.3,74.77 528,73.8 528.7,72.64 529.4,71.29 530.1,69.78 530.8,68.14 531.5,66.38 532.2,64.54 532.9,62.65 533.6,60.73 534.3,58.81 535,56.93 535.7,55.11 536.4,53.38 537.1,51.77 537.8,50.31 538.5,49.01 539.2,47.9 539.9,46.99 540.6,46.3 541.3,45.84 542,45.62 542.7,45.65 543.4,45.97 544.1,46.59 544.8,47.48 545.5,48.65 546.2,50.06 546.9,51.69 547.6,53.52 548.3,55.5 549,57.61 549.7,59.81 550.4,62.05 551.1,64.3 551.8,66.51 552.5,68.66 553.2,70.69 553.9,72.57 554.6,74.28 555.3,75.77 556,77.03 556.7,78.03 557.4,78.74 558.1,79.17 558.8,79.3 559.5,79.14 560.2,78.71 560.9,78.01 561.6,77.05 562.3,75.84 563,74.41 563.7,72.78 564.4,70.97 565.1,69.01 565.8,66.93 566.5,64.76 567.2,62.53 567.9,60.28 568.6,58.03 569.3,55.84 570,53.72 570.7,51.71 571.4,49.84 572.1,48.15 572.8,46.64 573.5,45.36 574.2,44.31 574.9,43.51 575.6,42.98 576.3,42.73 577,42.75 577.7,43.11 578.4,43.8 579.1,44.8 579.8,46.11 580.5,47.68 581.2,49.51 581.9,51.55 582.6,53.76 583.3,56.12 584,58.58 584.7,61.08 585.4,63.6 586.1,66.09 586.8,68.49 587.5,70.77 588.2,72.89 588.9,74.81 589.6,76.5 590.3,77.92 591,79.06 591.7,79.88 592.4,80.38 593.1,80.55 593.8,80.39 594.5,79.91 595.2,79.13 595.9,78.04 596.6,76.68 597.3,75.07 598,73.23 598.7,71.19 599.4,68.99 600.1,66.66 600.8,64.25 601.5,61.8 602.2,59.34 602.9,56.93 603.6,54.59 604.3,52.37 605,50.3 605.7,48.43 606.4,46.78 607.1,45.38 607.8,44.26 608.5,43.43 609.2,42.91 609.9,42.7 610.6,42.83 611.3,43.33 612,44.18 612.7,45.36 613.4,46.87 614.1,48.66 614.8,50.71 615.5,52.98 616.2,55.43 616.9,58.01 617.6,60.67 618.3,63.38 619,66.07 619.7,68.7 620.4,71.22 621.1,73.58 621.8,75.74 622.5,77.67 623.2,79.32 623.9,80.67 624.6,81.69 625.3,82.36 626,82.68 626.7,82.62 627.4,82.17 628.1,81.34 628.8,80.14 629.5,78.6 630.2,76.75 630.9,74.62 631.6,72.25 632.3,69.69 633,66.99 633,74.39 632.3,77.09 631.6,79.65 630.9,82.02 630.2,84.15 629.5,86 628.8,87.54 628.1,88.74 627.4,89.57 626.7,90.02 626,90.08 625.3,89.76 624.6,89.09 623.9,88.07 623.2,86.72 622.5,85.07 621.8,83.14 621.1,80.98 620.4,78.62 619.7,76.1 619,73.47 618.3,70.78 617.6,68.07 616.9,65.41 616.2,62.83 615.5,60.38 614.8,58.11 614.1,56.06 613.4,54.27 612.7,52.76 612,51.58 611.3,50.73 610.6,50.23 609.9,50.1 609.2,50.31 608.5,50.83 607.8,51.66 607.1,52.78 606.4,54.18 605.7,55.83 605,57.7 604.3,59.77 603.6,61.99 602.9,64.33 602.2,66.74 601.5,69.2 600.8,71.65 600.1,74.06 599.4,76.39 598.7,78.59 598,80.63 597.3,82.47 596.6,84.08 595.9,85.44 595.2,86.53 594.5,87.31 593.8,87.79 593.1,87.95 592.4,87.78 591.7,87.28 591,86.46 590.3,85.32 589.6,83.9 588.9,82.21 588.2,80.29 587.5,78.17 586.8,75.89 586.1,73.49 585.4,71 584.7,68.48 584,65.98 583.3,63.52 582.6,61.16 581.9,58.95 581.2,56.91 580.5,55.08 579.8,53.51 579.1,52.2 578.4,51.2 577.7,50.51 577,50.15 576.3,50.13 575.6,50.38 574.9,50.91 574.2,51.71 573.5,52.76 572.8,54.04 572.1,55.55 571.4,57.24 570.7,59.11 570,61.12 569.3,63.24 568.6,65.43 567.9,67.68 567.2,69.93 566.5,72.16 565.8,74.33 565.1,76.41 564.4,78.37 563.7,80.18 563,81.81 562.3,83.24 561.6,84.45 560.9,85.41 560.2,86.11 559.5,86.54 558.8,86.7 558.1,86.57 557.4,86.14 556.7,85.43 556,84.43 555.3,83.17 554.6,81.68 553.9,79.97 553.2,78.09 552.5,76.06 551.8,73.91 551.1,71.7 550.4,69.45 549.7,67.21 549,65.01 548.3,62.9 547.6,60.92 546.9,59.09 546.2,57.46 545.5,56.05 544.8,54.88 544.1,53.99 543.4,53.37 542.7,53.05 542,53.02 541.3,53.24 540.6,53.7 539.9,54.39 539.2,55.3 538.5,56.41 537.8,57.71 537.1,59.17 536.4,60.78 535.7,62.51 535,64.33 534.3,66.21 533.6,68.13 532.9,70.05 532.2,71.94 531.5,73.78 530.8,75.54 530.1,77.18 529.4,78.69 528.7,80.04 528,81.2 527.3,82.17 526.6,82.92 525.9,83.45 525.2,83.74 524.5,83.79 523.8,83.59 523.1,83.15 522.4,82.47 521.7,81.56 521,80.45 520.3,79.15 519.6,77.68 518.9,76.07 518.2,74.35 517.5,72.55 516.8,70.71 516.1,68.86 515.4,67.03 514.7,65.25 514,63.56 513.3,61.99 512.6,60.56 511.9,59.31 511.2,58.25 510.5,57.41 509.8,56.8 509.1,56.42 508.4,56.3 507.7,56.35 507,56.51 506.3,56.78 505.6,57.15 504.9,57.62 504.2,58.2 503.5,58.86 502.8,59.62 502.1,60.47 501.4,61.4 500.7,62.4 500,63.47 499.3,64.61 498.6,65.8 497.9,67.04 497.2,68.32 496.5,69.64 495.8,70.98 495.1,72.33 494.4,73.7" fill="#0000ff" fill-opacity="0.28" stroke="#0000ff" stroke-opacity="0.58" stroke-width="1"/>
<polyline points="358,67.5 358.35,67 359.5,62.8 360.7,56.9 361.4,56.21 362.1,53.5 363.4,43.4 364.6,51.8 365.8,45.1 366.8,40.9 368,40 369.1,49.3 370.1,41.7 371.3,47.6 372.5,56.1 373.8,58.6 374.5,60.76 375.2,64.5 376.05,64.3 376.9,66.2 378.1,70.4 379.2,80.5 379.9,80.35 380.6,78 381.9,75.4 382.75,75.56 383.6,77.1 384.8,83.9 386,78.8 387.3,80.5 388,79.22 388.7,79.6 389.9,72.9 390.73,70.13 391.57,66.36 392.4,63.6 393.23,62.22 394.07,58.54 394.9,56.9 396.1,51 397.4,54.4 398.1,52.46 398.8,48.5 400,52.7 401.1,48.5 401.8,47.65 402.5,47.6 403.35,50.37 404.2,52.7 405.2,55.35 406.2,56.1 407.5,65.3 408.37,66.57 409.23,67.97 410.1,67.9 410.93,71.42 411.77,73.04 412.6,77.1 413.7,79.6 414.55,82.99 415.4,84.7 416.7,79.6 417.55,80.25 418.4,80.5 419.6,85.5 420.45,81.73 421.3,78.8 422.4,74.32 423.5,71.2 424.6,70.4 425.45,69.47 426.3,67 427.15,65.08 428,62.8 428.85,58.71 429.7,52.7 430.55,53.7 431.4,53.5 432.6,60.3 433.9,53.5 434.6,51.16 435.3,46.8 436.1,51.15 436.9,55.2 437.95,56.09 439,56.1 439.8,60.95 440.6,65.3 441.45,65.22 442.3,66.2 443.17,67.77 444.03,66.92 444.9,67.9 445.73,68.79 446.57,69.43 447.4,68.7 448.25,72.83 449.1,76.3 449.93,76.61 450.77,79.22 451.6,79.6 452.7,81.27 453.8,82.2 454.65,76.86 455.5,72.9 456.35,73.16 457.2,75.4 458.3,70.4 459.5,74.6 460.2,71.72 460.9,68.7 461.7,68.52 462.5,70.4 463.55,66.29 464.6,60.3 465.7,56.06 466.8,51.8 467.55,55.64 468.3,59.4 469.5,54.4 470.7,56.9 471.55,53.75 472.4,51 473.7,56.9 474.4,56.4 475.1,55.2 476.1,56.97 477.1,56.9 478.1,59.03 479.1,62 479.95,63.37 480.8,65.3 481.65,64.23 482.5,62.8 483.8,68.7 484.85,70.78 485.9,73.75 486.75,73.14 487.6,72.1 488.9,78 489.75,78.89 490.6,79.6 491.45,79.45 492.3,79.6 493.35,75.18 494.4,70" fill="none" stroke="#000" stroke-width="1.54" stroke-linejoin="round"/>
<polyline points="494.4,70 495.1,68.63 495.8,67.28 496.5,65.94 497.2,64.62 497.9,63.34 498.6,62.1 499.3,60.91 500,59.77 500.7,58.7 501.4,57.7 502.1,56.77 502.8,55.92 503.5,55.16 504.2,54.5 504.9,53.92 505.6,53.45 506.3,53.08 507,52.81 507.7,52.65 508.4,52.6 509.1,52.72 509.8,53.1 510.5,53.71 511.2,54.55 511.9,55.61 512.6,56.86 513.3,58.29 514,59.86 514.7,61.55 515.4,63.33 516.1,65.16 516.8,67.01 517.5,68.85 518.2,70.65 518.9,72.37 519.6,73.98 520.3,75.45 521,76.75 521.7,77.86 522.4,78.77 523.1,79.45 523.8,79.89 524.5,80.09 525.2,80.04 525.9,79.75 526.6,79.22 527.3,78.47 528,77.5 528.7,76.34 529.4,74.99 530.1,73.48 530.8,71.84 531.5,70.08 532.2,68.24 532.9,66.35 533.6,64.43 534.3,62.51 535,60.63 535.7,58.81 536.4,57.08 537.1,55.47 537.8,54.01 538.5,52.71 539.2,51.6 539.9,50.69 540.6,50 541.3,49.54 542,49.32 542.7,49.35 543.4,49.67 544.1,50.29 544.8,51.18 545.5,52.35 546.2,53.76 546.9,55.39 547.6,57.22 548.3,59.2 549,61.31 549.7,63.51 550.4,65.75 551.1,68 551.8,70.21 552.5,72.36 553.2,74.39 553.9,76.27 554.6,77.98 555.3,79.47 556,80.73 556.7,81.73 557.4,82.44 558.1,82.87 558.8,83 559.5,82.84 560.2,82.41 560.9,81.71 561.6,80.75 562.3,79.54 563,78.11 563.7,76.48 564.4,74.67 565.1,72.71 565.8,70.63 566.5,68.46 567.2,66.23 567.9,63.98 568.6,61.73 569.3,59.54 570,57.42 570.7,55.41 571.4,53.54 572.1,51.85 572.8,50.34 573.5,49.06 574.2,48.01 574.9,47.21 575.6,46.68 576.3,46.43 577,46.45 577.7,46.81 578.4,47.5 579.1,48.5 579.8,49.81 580.5,51.38 581.2,53.21 581.9,55.25 582.6,57.46 583.3,59.82 584,62.28 584.7,64.78 585.4,67.3 586.1,69.79 586.8,72.19 587.5,74.47 588.2,76.59 588.9,78.51 589.6,80.2 590.3,81.62 591,82.76 591.7,83.58 592.4,84.08 593.1,84.25 593.8,84.09 594.5,83.61 595.2,82.83 595.9,81.74 596.6,80.38 597.3,78.77 598,76.93 598.7,74.89 599.4,72.69 600.1,70.36 600.8,67.95 601.5,65.5 602.2,63.04 602.9,60.63 603.6,58.29 604.3,56.07 605,54 605.7,52.13 606.4,50.48 607.1,49.08 607.8,47.96 608.5,47.13 609.2,46.61 609.9,46.4 610.6,46.53 611.3,47.03 612,47.88 612.7,49.06 613.4,50.57 614.1,52.36 614.8,54.41 615.5,56.68 616.2,59.13 616.9,61.71 617.6,64.37 618.3,67.08 619,69.77 619.7,72.4 620.4,74.92 621.1,77.28 621.8,79.44 622.5,81.37 623.2,83.02 623.9,84.37 624.6,85.39 625.3,86.06 626,86.38 626.7,86.32 627.4,85.87 628.1,85.04 628.8,83.84 629.5,82.3 630.2,80.45 630.9,78.32 631.6,75.95 632.3,73.39 633,70.69" fill="none" stroke="#1f77b4" stroke-width="1.54"/>
<polyline points="493.5,71.1 494.1,68.65 494.7,66.4 495.5,64.63 496.3,61.6 497.1,61.12 497.9,59.3 498.53,58.14 499.17,57.88 499.8,60.1 500.47,59.07 501.13,58.13 501.8,58.5 502.5,60.27 503.2,60.33 503.9,60.1 504.53,58.64 505.17,56.6 505.8,54.5 506.43,54.65 507.07,52.08 507.7,53 508.37,53.53 509.03,53.18 509.7,55.3 510.5,57.99 511.3,55.67 512.1,58.5 512.73,61.08 513.37,59.4 514,62.4 514.67,64.48 515.33,64.41 516,66.4 516.7,67.05 517.4,69.84 518.1,69.5 518.85,69.57 519.6,73.5 520.4,73.69 521.2,77.4 522.3,82.1 523.1,82.21 523.9,79 525,75.8 525.8,74.29 526.6,72.7 527.4,71.9 528.15,71.06 528.9,73.5 529.6,73.62 530.3,71.62 531,68 531.63,65.12 532.27,65.03 532.9,64 533.7,60.59 534.5,60.1 535.25,58.55 536,58.5 536.8,57.79 537.6,56.1 538.23,53.19 538.87,53.75 539.5,51.4 540.15,48.41 540.8,49 541.55,49.28 542.3,52.2 543.1,54.26 543.9,53.8 544.7,54.55 545.5,56.1 546.3,57.38 547.1,59.3 547.85,61.63 548.6,63.2 549.23,64.94 549.87,66.4 550.5,68.7 551.2,68.16 551.9,72.27 552.6,72.7 553.27,76.14 553.93,77.74 554.6,77.4 555.4,80.4 556.2,82.1 557.3,84.5 558.1,81.58 558.9,79.8 559.7,79.65 560.5,80.6 561.13,81.16 561.77,80.9 562.4,80 563.25,76.06 564.1,75.2 564.9,74.54 565.7,76 566.5,71.75 567.3,68.6 568.15,65.4 569,62.1 569.8,60.89 570.6,57.2 571.4,55.15 572.2,53.1 573.05,49.16 573.9,49 574.7,48.29 575.5,45 576.15,47.57 576.8,50.7 577.55,51.98 578.3,53.1 579.1,52.84 579.9,54.8 580.6,55.58 581.3,56.49 582,58 582.85,61.54 583.7,62.9 584.5,63.36 585.3,67 586,69.1 586.7,69.51 587.4,72.7 588.2,76.33 589,78.4 589.67,78.45 590.33,81.31 591,84.1 591.8,84.33 592.6,85.8 593.25,87.55 593.9,88.2 594.75,83.16 595.6,81.7 596.6,76 597.25,71.34 597.9,67 598.5,67.89 599.1,71.1 599.9,66.53 600.7,63.7 601.5,60.36 602.3,57.2 603.15,57.43 604,54 604.8,52.27 605.6,50.7 606.3,51.69 607,47.7 607.7,48.2 608.37,49.1 609.03,46.06 609.7,45.8 610.5,44.16 611.3,45 612.1,47.19 612.9,47.4 613.57,50.68 614.23,48.69 614.9,52.3 615.6,53.01 616.3,56.65 617,57.2 617.7,58.47 618.4,59.97 619.1,62.9 619.77,63.4 620.43,65.99 621.1,70.3 621.77,72.94 622.43,76.57 623.1,76.8 623.75,82.04 624.4,83.3 625.2,86.56 626,89.8 626.8,85.45 627.6,84.9 628.27,83.39 628.93,84.45 629.6,82.5 630.25,84.23 630.9,83.3 631.6,82.76 632.3,80.02 633,80" fill="none" stroke="#000" stroke-width="1.54" stroke-dasharray="5.7 2.47" stroke-linejoin="round"/>
</g>
<rect x="358" y="35.3" width="273.9" height="61.2" fill="none" stroke="#000" stroke-width="0.82"/>
<line x1="358" y1="96.5" x2="358" y2="100.09" stroke="#000" stroke-width="0.82"/>
<text transform="scale(1.00394,1)" x="353.6" y="112" font-size="10.76">0</text>
<line x1="393.83" y1="96.5" x2="393.83" y2="100.09" stroke="#000" stroke-width="0.82"/>
<text transform="scale(0.95738,1)" x="404.9 411.81" y="112" font-size="10.76">25</text>
<line x1="429.67" y1="96.5" x2="429.67" y2="100.09" stroke="#000" stroke-width="0.82"/>
<text transform="scale(0.97582,1)" x="433.88 440.6" y="112" font-size="10.76">50</text>
<line x1="465.5" y1="96.5" x2="465.5" y2="100.09" stroke="#000" stroke-width="0.82"/>
<text transform="scale(0.96440,1)" x="476.31 483.05" y="112" font-size="10.76">75</text>
<line x1="501.33" y1="96.5" x2="501.33" y2="100.09" stroke="#000" stroke-width="0.82"/>
<text transform="scale(0.98993,1)" x="496.57 503.21 509.8" y="112" font-size="10.76">100</text>
<line x1="537.16" y1="96.5" x2="537.16" y2="100.09" stroke="#000" stroke-width="0.82"/>
<text transform="scale(0.95785,1)" x="550.83 557.54 564.45" y="112" font-size="10.76">125</text>
<line x1="573" y1="96.5" x2="573" y2="100.09" stroke="#000" stroke-width="0.82"/>
<text transform="scale(0.97053,1)" x="580.4 587.13 593.89" y="112" font-size="10.76">150</text>
<line x1="608.83" y1="96.5" x2="608.83" y2="100.09" stroke="#000" stroke-width="0.82"/>
<text transform="scale(0.96264,1)" x="622.52 629.32 636.07" y="112" font-size="10.76">175</text>
<line x1="354.41" y1="46.4" x2="358" y2="46.4" stroke="#000" stroke-width="0.82"/>
<text transform="scale(0.94748,1)" x="364.87" y="51" font-size="10.76">5</text>
<line x1="354.41" y1="65.9" x2="358" y2="65.9" stroke="#000" stroke-width="0.82"/>
<text transform="scale(1.00394,1)" x="344.01" y="70" font-size="10.76">0</text>
<line x1="354.41" y1="85.4" x2="358" y2="85.4" stroke="#000" stroke-width="0.82"/>
<text transform="scale(1.08899,1)" x="310.02 317.07" y="90" font-size="10.76">−5</text>
<text transform="scale(1.09283,1)" x="441.11 444.58 447.18 456.12" y="126" font-size="10.76">time</text>
<polygon points="25.6,208.9 25.6,208.88 25.94,208.88 26.28,208.88 26.61,208.87 26.95,208.87 27.29,208.87 27.63,208.86 27.97,208.86 28.3,208.86 28.64,208.85 28.98,208.85 29.32,208.84 29.66,208.84 29.99,208.83 30.33,208.82 30.67,208.82 31.01,208.81 31.35,208.8 31.68,208.79 32.02,208.78 32.36,208.77 32.7,208.76 33.04,208.75 33.37,208.73 33.71,208.72 34.05,208.7 34.39,208.69 34.73,208.67 35.06,208.65 35.4,208.62 35.74,208.6 36.08,208.58 36.41,208.55 36.75,208.52 37.09,208.49 37.43,208.46 37.77,208.42 38.1,208.38 38.44,208.34 38.78,208.29 39.12,208.25 39.46,208.2 39.79,208.14 40.13,208.09 40.47,208.02 40.81,207.96 41.15,207.89 41.48,207.81 41.82,207.73 42.16,207.65 42.5,207.56 42.84,207.47 43.17,207.37 43.51,207.26 43.85,207.15 44.19,207.03 44.53,206.9 44.86,206.77 45.2,206.63 45.54,206.48 45.88,206.32 46.22,206.15 46.55,205.98 46.89,205.8 47.23,205.6 47.57,205.4 47.91,205.19 48.24,204.96 48.58,204.73 48.92,204.48 49.26,204.23 49.6,203.96 49.93,203.68 50.27,203.38 50.61,203.08 50.95,202.76 51.29,202.43 51.62,202.08 51.96,201.72 52.3,201.34 52.64,200.95 52.98,200.55 53.31,200.13 53.65,199.69 53.99,199.24 54.33,198.77 54.67,198.29 55,197.79 55.34,197.28 55.68,196.75 56.02,196.2 56.36,195.64 56.69,195.06 57.03,194.46 57.37,193.85 57.71,193.22 58.05,192.57 58.38,191.91 58.72,191.23 59.06,190.54 59.4,189.84 59.73,189.11 60.07,188.38 60.41,187.62 60.75,186.86 61.09,186.08 61.42,185.29 61.76,184.49 62.1,183.67 62.44,182.85 62.78,182.01 63.11,181.17 63.45,180.32 63.79,179.45 64.13,178.59 64.47,177.71 64.8,176.83 65.14,175.95 65.48,175.06 65.82,174.17 66.16,173.28 66.49,172.39 66.83,171.5 67.17,170.62 67.51,169.73 67.85,168.85 68.18,167.98 68.52,167.11 68.86,166.26 69.2,165.41 69.54,164.57 69.87,163.75 70.21,162.94 70.55,162.14 70.89,161.36 71.23,160.59 71.56,159.85 71.9,159.12 72.24,158.42 72.58,157.74 72.92,157.08 73.25,156.44 73.59,155.83 73.93,155.25 74.27,154.69 74.61,154.16 74.94,153.66 75.28,153.2 75.62,152.76 75.96,152.35 76.3,151.98 76.63,151.64 76.97,151.34 77.31,151.07 77.65,150.83 77.99,150.63 78.32,150.47 78.66,150.34 79,150.25 79.34,150.19 79.67,150.18 80.01,150.19 80.35,150.25 80.69,150.34 81.03,150.47 81.36,150.63 81.7,150.83 82.04,151.07 82.38,151.34 82.72,151.64 83.05,151.98 83.39,152.35 83.73,152.76 84.07,153.2 84.41,153.66 84.74,154.16 85.08,154.69 85.42,155.25 85.76,155.83 86.1,156.44 86.43,157.08 86.77,157.74 87.11,158.42 87.45,159.12 87.79,159.85 88.12,160.59 88.46,161.36 88.8,162.14 89.14,162.94 89.48,163.75 89.81,164.57 90.15,165.41 90.49,166.26 90.83,167.11 91.17,167.98 91.5,168.85 91.84,169.73 92.18,170.62 92.52,171.5 92.86,172.39 93.19,173.28 93.53,174.17 93.87,175.06 94.21,175.95 94.55,176.83 94.88,177.71 95.22,178.59 95.56,179.45 95.9,180.32 96.24,181.17 96.57,182.01 96.91,182.85 97.25,183.67 97.59,184.49 97.93,185.29 98.26,186.08 98.6,186.86 98.94,187.62 99.28,188.38 99.62,189.11 99.95,189.84 100.29,190.54 100.63,191.23 100.97,191.91 101.31,192.57 101.64,193.22 101.98,193.85 102.32,194.46 102.66,195.06 102.99,195.64 103.33,196.2 103.67,196.75 104.01,197.28 104.35,197.79 104.68,198.29 105.02,198.77 105.36,199.24 105.7,199.69 106.04,200.13 106.37,200.55 106.71,200.95 107.05,201.34 107.39,201.72 107.73,202.08 108.06,202.43 108.4,202.76 108.74,203.08 109.08,203.38 109.42,203.68 109.75,203.96 110.09,204.23 110.43,204.48 110.77,204.73 111.11,204.96 111.44,205.19 111.78,205.4 112.12,205.6 112.46,205.8 112.8,205.98 113.13,206.15 113.47,206.32 113.81,206.48 114.15,206.63 114.49,206.77 114.82,206.9 115.16,207.03 115.5,207.15 115.84,207.26 116.18,207.37 116.51,207.47 116.85,207.56 117.19,207.65 117.53,207.73 117.87,207.81 118.2,207.89 118.54,207.96 118.88,208.02 119.22,208.09 119.56,208.14 119.89,208.2 120.23,208.25 120.57,208.29 120.91,208.34 121.25,208.38 121.58,208.42 121.92,208.46 122.26,208.49 122.6,208.52 122.94,208.55 123.27,208.58 123.61,208.6 123.95,208.62 124.29,208.65 124.62,208.67 124.96,208.69 125.3,208.7 125.64,208.72 125.98,208.73 126.31,208.75 126.65,208.76 126.99,208.77 127.33,208.78 127.67,208.79 128,208.8 128.34,208.81 128.68,208.82 129.02,208.82 129.36,208.83 129.69,208.84 130.03,208.84 130.37,208.85 130.71,208.85 131.05,208.86 131.38,208.86 131.72,208.86 132.06,208.87 132.4,208.87 132.74,208.87 133.07,208.88 133.41,208.88 133.75,208.88 133.75,208.9" fill="#1f77b4"/>
<polyline points="25.6,208.88 25.94,208.88 26.28,208.88 26.61,208.87 26.95,208.87 27.29,208.87 27.63,208.86 27.97,208.86 28.3,208.86 28.64,208.85 28.98,208.85 29.32,208.84 29.66,208.84 29.99,208.83 30.33,208.82 30.67,208.82 31.01,208.81 31.35,208.8 31.68,208.79 32.02,208.78 32.36,208.77 32.7,208.76 33.04,208.75 33.37,208.73 33.71,208.72 34.05,208.7 34.39,208.69 34.73,208.67 35.06,208.65 35.4,208.62 35.74,208.6 36.08,208.58 36.41,208.55 36.75,208.52 37.09,208.49 37.43,208.46 37.77,208.42 38.1,208.38 38.44,208.34 38.78,208.29 39.12,208.25 39.46,208.2 39.79,208.14 40.13,208.09 40.47,208.02 40.81,207.96 41.15,207.89 41.48,207.81 41.82,207.73 42.16,207.65 42.5,207.56 42.84,207.47 43.17,207.37 43.51,207.26 43.85,207.15 44.19,207.03 44.53,206.9 44.86,206.77 45.2,206.63 45.54,206.48 45.88,206.32 46.22,206.15 46.55,205.98 46.89,205.8 47.23,205.6 47.57,205.4 47.91,205.19 48.24,204.96 48.58,204.73 48.92,204.48 49.26,204.23 49.6,203.96 49.93,203.68 50.27,203.38 50.61,203.08 50.95,202.76 51.29,202.43 51.62,202.08 51.96,201.72 52.3,201.34 52.64,200.95 52.98,200.55 53.31,200.13 53.65,199.69 53.99,199.24 54.33,198.77 54.67,198.29 55,197.79 55.34,197.28 55.68,196.75 56.02,196.2 56.36,195.64 56.69,195.06 57.03,194.46 57.37,193.85 57.71,193.22 58.05,192.57 58.38,191.91 58.72,191.23 59.06,190.54 59.4,189.84 59.73,189.11 60.07,188.38 60.41,187.62 60.75,186.86 61.09,186.08 61.42,185.29 61.76,184.49 62.1,183.67 62.44,182.85 62.78,182.01 63.11,181.17 63.45,180.32 63.79,179.45 64.13,178.59 64.47,177.71 64.8,176.83 65.14,175.95 65.48,175.06 65.82,174.17 66.16,173.28 66.49,172.39 66.83,171.5 67.17,170.62 67.51,169.73 67.85,168.85 68.18,167.98 68.52,167.11 68.86,166.26 69.2,165.41 69.54,164.57 69.87,163.75 70.21,162.94 70.55,162.14 70.89,161.36 71.23,160.59 71.56,159.85 71.9,159.12 72.24,158.42 72.58,157.74 72.92,157.08 73.25,156.44 73.59,155.83 73.93,155.25 74.27,154.69 74.61,154.16 74.94,153.66 75.28,153.2 75.62,152.76 75.96,152.35 76.3,151.98 76.63,151.64 76.97,151.34 77.31,151.07 77.65,150.83 77.99,150.63 78.32,150.47 78.66,150.34 79,150.25 79.34,150.19 79.67,150.18 80.01,150.19 80.35,150.25 80.69,150.34 81.03,150.47 81.36,150.63 81.7,150.83 82.04,151.07 82.38,151.34 82.72,151.64 83.05,151.98 83.39,152.35 83.73,152.76 84.07,153.2 84.41,153.66 84.74,154.16 85.08,154.69 85.42,155.25 85.76,155.83 86.1,156.44 86.43,157.08 86.77,157.74 87.11,158.42 87.45,159.12 87.79,159.85 88.12,160.59 88.46,161.36 88.8,162.14 89.14,162.94 89.48,163.75 89.81,164.57 90.15,165.41 90.49,166.26 90.83,167.11 91.17,167.98 91.5,168.85 91.84,169.73 92.18,170.62 92.52,171.5 92.86,172.39 93.19,173.28 93.53,174.17 93.87,175.06 94.21,175.95 94.55,176.83 94.88,177.71 95.22,178.59 95.56,179.45 95.9,180.32 96.24,181.17 96.57,182.01 96.91,182.85 97.25,183.67 97.59,184.49 97.93,185.29 98.26,186.08 98.6,186.86 98.94,187.62 99.28,188.38 99.62,189.11 99.95,189.84 100.29,190.54 100.63,191.23 100.97,191.91 101.31,192.57 101.64,193.22 101.98,193.85 102.32,194.46 102.66,195.06 102.99,195.64 103.33,196.2 103.67,196.75 104.01,197.28 104.35,197.79 104.68,198.29 105.02,198.77 105.36,199.24 105.7,199.69 106.04,200.13 106.37,200.55 106.71,200.95 107.05,201.34 107.39,201.72 107.73,202.08 108.06,202.43 108.4,202.76 108.74,203.08 109.08,203.38 109.42,203.68 109.75,203.96 110.09,204.23 110.43,204.48 110.77,204.73 111.11,204.96 111.44,205.19 111.78,205.4 112.12,205.6 112.46,205.8 112.8,205.98 113.13,206.15 113.47,206.32 113.81,206.48 114.15,206.63 114.49,206.77 114.82,206.9 115.16,207.03 115.5,207.15 115.84,207.26 116.18,207.37 116.51,207.47 116.85,207.56 117.19,207.65 117.53,207.73 117.87,207.81 118.2,207.89 118.54,207.96 118.88,208.02 119.22,208.09 119.56,208.14 119.89,208.2 120.23,208.25 120.57,208.29 120.91,208.34 121.25,208.38 121.58,208.42 121.92,208.46 122.26,208.49 122.6,208.52 122.94,208.55 123.27,208.58 123.61,208.6 123.95,208.62 124.29,208.65 124.62,208.67 124.96,208.69 125.3,208.7 125.64,208.72 125.98,208.73 126.31,208.75 126.65,208.76 126.99,208.77 127.33,208.78 127.67,208.79 128,208.8 128.34,208.81 128.68,208.82 129.02,208.82 129.36,208.83 129.69,208.84 130.03,208.84 130.37,208.85 130.71,208.85 131.05,208.86 131.38,208.86 131.72,208.86 132.06,208.87 132.4,208.87 132.74,208.87 133.07,208.88 133.41,208.88 133.75,208.88" fill="none" stroke="#ff7f0e" stroke-width="1.54"/>
<rect x="25.6" y="147.5" width="108.15" height="61.25" fill="none" stroke="#000" stroke-width="0.82"/>
<line x1="45.88" y1="208.75" x2="45.88" y2="212.34" stroke="#000" stroke-width="0.82"/>
<text transform="scale(1.04873,1)" x="32.74 39.96 46.25 49.38" y="224" font-size="10.76">−2.5</text>
<line x1="79.67" y1="208.75" x2="79.67" y2="212.34" stroke="#000" stroke-width="0.82"/>
<text transform="scale(1.00635,1)" x="71.32 77.67 81.04" y="224" font-size="10.76">0.0</text>
<line x1="113.47" y1="208.75" x2="113.47" y2="212.34" stroke="#000" stroke-width="0.82"/>
<text transform="scale(0.96418,1)" x="109.56 116.26 119.8" y="224" font-size="10.76">2.5</text>
<line x1="22.01" y1="208.9" x2="25.6" y2="208.9" stroke="#000" stroke-width="0.82"/>
<text transform="scale(1.00394,1)" x="12.91" y="213" font-size="10.76">0</text>
<line x1="22.01" y1="179.46" x2="25.6" y2="179.46" stroke="#000" stroke-width="0.82"/>
<text transform="scale(0.96769,1)" x="13.73" y="184" font-size="10.76">2</text>
<line x1="22.01" y1="150.02" x2="25.6" y2="150.02" stroke="#000" stroke-width="0.82"/>
<text transform="scale(1.00406,1)" x="12.8" y="154" font-size="10.76">4</text>
<text transform="scale(1.05568,1)" x="25.07 32.32 38.56" y="145" font-size="10.76">×10</text>
<text transform="scale(1.10097,1)" x="43.44 48.3" y="140" font-size="7.53">−1</text>
<polygon points="191.9,208.9 191.9,208.88 192.24,208.88 192.57,208.88 192.91,208.88 193.24,208.88 193.58,208.87 193.92,208.87 194.25,208.87 194.59,208.87 194.92,208.86 195.26,208.86 195.6,208.85 195.93,208.85 196.27,208.85 196.6,208.84 196.94,208.83 197.27,208.83 197.61,208.82 197.95,208.81 198.28,208.8 198.62,208.8 198.95,208.79 199.29,208.77 199.63,208.76 199.96,208.75 200.3,208.74 200.63,208.72 200.97,208.71 201.31,208.69 201.64,208.67 201.98,208.65 202.31,208.63 202.65,208.6 202.99,208.58 203.32,208.55 203.66,208.52 203.99,208.49 204.33,208.46 204.67,208.42 205,208.38 205.34,208.34 205.67,208.3 206.01,208.25 206.35,208.2 206.68,208.14 207.02,208.08 207.35,208.02 207.69,207.95 208.02,207.88 208.36,207.81 208.7,207.73 209.03,207.64 209.37,207.55 209.7,207.45 210.04,207.35 210.38,207.24 210.71,207.13 211.05,207 211.38,206.87 211.72,206.74 212.06,206.59 212.39,206.44 212.73,206.28 213.06,206.11 213.4,205.93 213.74,205.74 214.07,205.54 214.41,205.33 214.74,205.11 215.08,204.88 215.42,204.64 215.75,204.39 216.09,204.13 216.42,203.85 216.76,203.56 217.1,203.26 217.43,202.94 217.77,202.61 218.1,202.27 218.44,201.91 218.77,201.54 219.11,201.15 219.45,200.75 219.78,200.33 220.12,199.9 220.45,199.45 220.79,198.99 221.13,198.51 221.46,198.01 221.8,197.5 222.13,196.97 222.47,196.42 222.81,195.86 223.14,195.28 223.48,194.68 223.81,194.07 224.15,193.44 224.49,192.79 224.82,192.13 225.16,191.46 225.49,190.76 225.83,190.05 226.17,189.33 226.5,188.59 226.84,187.84 227.17,187.07 227.51,186.29 227.85,185.5 228.18,184.69 228.52,183.88 228.85,183.05 229.19,182.21 229.52,181.37 229.86,180.51 230.2,179.65 230.53,178.78 230.87,177.9 231.2,177.02 231.54,176.14 231.88,175.25 232.21,174.36 232.55,173.47 232.88,172.58 233.22,171.69 233.56,170.81 233.89,169.92 234.23,169.05 234.56,168.18 234.9,167.32 235.24,166.46 235.57,165.62 235.91,164.79 236.24,163.98 236.58,163.17 236.92,162.38 237.25,161.61 237.59,160.86 237.92,160.13 238.26,159.42 238.6,158.73 238.93,158.06 239.27,157.42 239.6,156.8 239.94,156.21 240.27,155.65 240.61,155.11 240.95,154.61 241.28,154.13 241.62,153.69 241.95,153.28 242.29,152.9 242.63,152.56 242.96,152.25 243.3,151.98 243.63,151.74 243.97,151.53 244.31,151.37 244.64,151.24 244.98,151.14 245.31,151.09 245.65,151.07 245.99,151.09 246.32,151.14 246.66,151.24 246.99,151.37 247.33,151.53 247.67,151.74 248,151.98 248.34,152.25 248.67,152.56 249.01,152.9 249.35,153.28 249.68,153.69 250.02,154.13 250.35,154.61 250.69,155.11 251.02,155.65 251.36,156.21 251.7,156.8 252.03,157.42 252.37,158.06 252.7,158.73 253.04,159.42 253.38,160.13 253.71,160.86 254.05,161.61 254.38,162.38 254.72,163.17 255.06,163.98 255.39,164.79 255.73,165.62 256.06,166.46 256.4,167.32 256.74,168.18 257.07,169.05 257.41,169.92 257.74,170.81 258.08,171.69 258.42,172.58 258.75,173.47 259.09,174.36 259.42,175.25 259.76,176.14 260.1,177.02 260.43,177.9 260.77,178.78 261.1,179.65 261.44,180.51 261.77,181.37 262.11,182.21 262.45,183.05 262.78,183.88 263.12,184.69 263.45,185.5 263.79,186.29 264.13,187.07 264.46,187.84 264.8,188.59 265.13,189.33 265.47,190.05 265.81,190.76 266.14,191.46 266.48,192.13 266.81,192.79 267.15,193.44 267.49,194.07 267.82,194.68 268.16,195.28 268.49,195.86 268.83,196.42 269.17,196.97 269.5,197.5 269.84,198.01 270.17,198.51 270.51,198.99 270.85,199.45 271.18,199.9 271.52,200.33 271.85,200.75 272.19,201.15 272.52,201.54 272.86,201.91 273.2,202.27 273.53,202.61 273.87,202.94 274.2,203.26 274.54,203.56 274.88,203.85 275.21,204.13 275.55,204.39 275.88,204.64 276.22,204.88 276.56,205.11 276.89,205.33 277.23,205.54 277.56,205.74 277.9,205.93 278.24,206.11 278.57,206.28 278.91,206.44 279.24,206.59 279.58,206.74 279.92,206.87 280.25,207 280.59,207.13 280.92,207.24 281.26,207.35 281.6,207.45 281.93,207.55 282.27,207.64 282.6,207.73 282.94,207.81 283.27,207.88 283.61,207.95 283.95,208.02 284.28,208.08 284.62,208.14 284.95,208.2 285.29,208.25 285.63,208.3 285.96,208.34 286.3,208.38 286.63,208.42 286.97,208.46 287.31,208.49 287.64,208.52 287.98,208.55 288.31,208.58 288.65,208.6 288.99,208.63 289.32,208.65 289.66,208.67 289.99,208.69 290.33,208.71 290.67,208.72 291,208.74 291.34,208.75 291.67,208.76 292.01,208.77 292.35,208.79 292.68,208.8 293.02,208.8 293.35,208.81 293.69,208.82 294.02,208.83 294.36,208.83 294.7,208.84 295.03,208.85 295.37,208.85 295.7,208.85 296.04,208.86 296.38,208.86 296.71,208.87 297.05,208.87 297.38,208.87 297.72,208.87 298.06,208.88 298.39,208.88 298.73,208.88 299.06,208.88 299.4,208.88 299.4,208.9" fill="#1f77b4"/>
<polyline points="191.9,208.88 192.24,208.88 192.57,208.88 192.91,208.87 193.24,208.87 193.58,208.87 193.92,208.86 194.25,208.86 194.59,208.86 194.92,208.85 195.26,208.85 195.6,208.84 195.93,208.84 196.27,208.83 196.6,208.82 196.94,208.82 197.27,208.81 197.61,208.8 197.95,208.79 198.28,208.78 198.62,208.77 198.95,208.76 199.29,208.75 199.63,208.73 199.96,208.72 200.3,208.7 200.63,208.69 200.97,208.67 201.31,208.65 201.64,208.62 201.98,208.6 202.31,208.58 202.65,208.55 202.99,208.52 203.32,208.49 203.66,208.46 203.99,208.42 204.33,208.38 204.67,208.34 205,208.29 205.34,208.25 205.67,208.2 206.01,208.14 206.35,208.09 206.68,208.02 207.02,207.96 207.35,207.89 207.69,207.81 208.02,207.73 208.36,207.65 208.7,207.56 209.03,207.47 209.37,207.37 209.7,207.26 210.04,207.15 210.38,207.03 210.71,206.9 211.05,206.77 211.38,206.63 211.72,206.48 212.06,206.32 212.39,206.15 212.73,205.98 213.06,205.8 213.4,205.6 213.74,205.4 214.07,205.19 214.41,204.96 214.74,204.73 215.08,204.48 215.42,204.23 215.75,203.96 216.09,203.68 216.42,203.38 216.76,203.08 217.1,202.76 217.43,202.43 217.77,202.08 218.1,201.72 218.44,201.34 218.77,200.95 219.11,200.55 219.45,200.13 219.78,199.69 220.12,199.24 220.45,198.77 220.79,198.29 221.13,197.79 221.46,197.28 221.8,196.75 222.13,196.2 222.47,195.64 222.81,195.06 223.14,194.46 223.48,193.85 223.81,193.22 224.15,192.57 224.49,191.91 224.82,191.23 225.16,190.54 225.49,189.84 225.83,189.11 226.17,188.38 226.5,187.62 226.84,186.86 227.17,186.08 227.51,185.29 227.85,184.49 228.18,183.67 228.52,182.85 228.85,182.01 229.19,181.17 229.52,180.32 229.86,179.45 230.2,178.59 230.53,177.71 230.87,176.83 231.2,175.95 231.54,175.06 231.88,174.17 232.21,173.28 232.55,172.39 232.88,171.5 233.22,170.62 233.56,169.73 233.89,168.85 234.23,167.98 234.56,167.11 234.9,166.26 235.24,165.41 235.57,164.57 235.91,163.75 236.24,162.94 236.58,162.14 236.92,161.36 237.25,160.59 237.59,159.85 237.92,159.12 238.26,158.42 238.6,157.74 238.93,157.08 239.27,156.44 239.6,155.83 239.94,155.25 240.27,154.69 240.61,154.16 240.95,153.66 241.28,153.2 241.62,152.76 241.95,152.35 242.29,151.98 242.63,151.64 242.96,151.34 243.3,151.07 243.63,150.83 243.97,150.63 244.31,150.47 244.64,150.34 244.98,150.25 245.31,150.19 245.65,150.18 245.99,150.19 246.32,150.25 246.66,150.34 246.99,150.47 247.33,150.63 247.67,150.83 248,151.07 248.34,151.34 248.67,151.64 249.01,151.98 249.35,152.35 249.68,152.76 250.02,153.2 250.35,153.66 250.69,154.16 251.02,154.69 251.36,155.25 251.7,155.83 252.03,156.44 252.37,157.08 252.7,157.74 253.04,158.42 253.38,159.12 253.71,159.85 254.05,160.59 254.38,161.36 254.72,162.14 255.06,162.94 255.39,163.75 255.73,164.57 256.06,165.41 256.4,166.26 256.74,167.11 257.07,167.98 257.41,168.85 257.74,169.73 258.08,170.62 258.42,171.5 258.75,172.39 259.09,173.28 259.42,174.17 259.76,175.06 260.1,175.95 260.43,176.83 260.77,177.71 261.1,178.59 261.44,179.45 261.77,180.32 262.11,181.17 262.45,182.01 262.78,182.85 263.12,183.67 263.45,184.49 263.79,185.29 264.13,186.08 264.46,186.86 264.8,187.62 265.13,188.38 265.47,189.11 265.81,189.84 266.14,190.54 266.48,191.23 266.81,191.91 267.15,192.57 267.49,193.22 267.82,193.85 268.16,194.46 268.49,195.06 268.83,195.64 269.17,196.2 269.5,196.75 269.84,197.28 270.17,197.79 270.51,198.29 270.85,198.77 271.18,199.24 271.52,199.69 271.85,200.13 272.19,200.55 272.52,200.95 272.86,201.34 273.2,201.72 273.53,202.08 273.87,202.43 274.2,202.76 274.54,203.08 274.88,203.38 275.21,203.68 275.55,203.96 275.88,204.23 276.22,204.48 276.56,204.73 276.89,204.96 277.23,205.19 277.56,205.4 277.9,205.6 278.24,205.8 278.57,205.98 278.91,206.15 279.24,206.32 279.58,206.48 279.92,206.63 280.25,206.77 280.59,206.9 280.92,207.03 281.26,207.15 281.6,207.26 281.93,207.37 282.27,207.47 282.6,207.56 282.94,207.65 283.27,207.73 283.61,207.81 283.95,207.89 284.28,207.96 284.62,208.02 284.95,208.09 285.29,208.14 285.63,208.2 285.96,208.25 286.3,208.29 286.63,208.34 286.97,208.38 287.31,208.42 287.64,208.46 287.98,208.49 288.31,208.52 288.65,208.55 288.99,208.58 289.32,208.6 289.66,208.62 289.99,208.65 290.33,208.67 290.67,208.69 291,208.7 291.34,208.72 291.67,208.73 292.01,208.75 292.35,208.76 292.68,208.77 293.02,208.78 293.35,208.79 293.69,208.8 294.02,208.81 294.36,208.82 294.7,208.82 295.03,208.83 295.37,208.84 295.7,208.84 296.04,208.85 296.38,208.85 296.71,208.86 297.05,208.86 297.38,208.86 297.72,208.87 298.06,208.87 298.39,208.87 298.73,208.88 299.06,208.88 299.4,208.88" fill="none" stroke="#ff7f0e" stroke-width="1.54"/>
<rect x="191.9" y="147.5" width="107.5" height="61.25" fill="none" stroke="#000" stroke-width="0.82"/>
<line x1="212.06" y1="208.75" x2="212.06" y2="212.34" stroke="#000" stroke-width="0.82"/>
<text transform="scale(1.04873,1)" x="191.2 198.42 204.71 207.84" y="224" font-size="10.76">−2.5</text>
<line x1="245.65" y1="208.75" x2="245.65" y2="212.34" stroke="#000" stroke-width="0.82"/>
<text transform="scale(1.00635,1)" x="236.25 242.6 245.97" y="224" font-size="10.76">0.0</text>
<line x1="279.24" y1="208.75" x2="279.24" y2="212.34" stroke="#000" stroke-width="0.82"/>
<text transform="scale(0.96418,1)" x="281.49 288.19 291.73" y="224" font-size="10.76">2.5</text>
<line x1="188.31" y1="208.9" x2="191.9" y2="208.9" stroke="#000" stroke-width="0.82"/>
<text transform="scale(1.00394,1)" x="178.56" y="213" font-size="10.76">0</text>
<line x1="188.31" y1="179.46" x2="191.9" y2="179.46" stroke="#000" stroke-width="0.82"/>
<text transform="scale(0.96769,1)" x="185.58" y="184" font-size="10.76">2</text>
<line x1="188.31" y1="150.02" x2="191.9" y2="150.02" stroke="#000" stroke-width="0.82"/>
<text transform="scale(1.00406,1)" x="178.43" y="154" font-size="10.76">4</text>
<text transform="scale(1.05568,1)" x="182.6 189.85 196.08" y="145" font-size="10.76">×10</text>
<text transform="scale(1.10097,1)" x="194.48 199.35" y="140" font-size="7.53">−1</text>
<polygon points="357.9,208.9 357.9,208.89 358.24,208.89 358.57,208.89 358.91,208.88 359.24,208.88 359.58,208.88 359.92,208.88 360.25,208.88 360.59,208.87 360.92,208.87 361.26,208.87 361.6,208.86 361.93,208.86 362.27,208.86 362.6,208.85 362.94,208.85 363.27,208.84 363.61,208.84 363.95,208.83 364.28,208.82 364.62,208.82 364.95,208.81 365.29,208.8 365.63,208.79 365.96,208.78 366.3,208.77 366.63,208.75 366.97,208.74 367.31,208.73 367.64,208.71 367.98,208.69 368.31,208.67 368.65,208.65 368.99,208.63 369.32,208.61 369.66,208.58 369.99,208.56 370.33,208.53 370.67,208.49 371,208.46 371.34,208.42 371.67,208.38 372.01,208.34 372.35,208.3 372.68,208.25 373.02,208.2 373.35,208.14 373.69,208.08 374.02,208.02 374.36,207.95 374.7,207.88 375.03,207.8 375.37,207.72 375.7,207.63 376.04,207.54 376.38,207.44 376.71,207.33 377.05,207.22 377.38,207.1 377.72,206.98 378.06,206.85 378.39,206.7 378.73,206.56 379.06,206.4 379.4,206.23 379.74,206.06 380.07,205.88 380.41,205.68 380.74,205.48 381.08,205.26 381.42,205.04 381.75,204.8 382.09,204.55 382.42,204.29 382.76,204.02 383.1,203.74 383.43,203.44 383.77,203.13 384.1,202.8 384.44,202.46 384.77,202.11 385.11,201.74 385.45,201.36 385.78,200.96 386.12,200.54 386.45,200.11 386.79,199.67 387.13,199.21 387.46,198.73 387.8,198.23 388.13,197.72 388.47,197.19 388.81,196.65 389.14,196.09 389.48,195.51 389.81,194.91 390.15,194.3 390.49,193.67 390.82,193.03 391.16,192.36 391.49,191.69 391.83,190.99 392.17,190.28 392.5,189.56 392.84,188.82 393.17,188.06 393.51,187.29 393.85,186.51 394.18,185.72 394.52,184.91 394.85,184.09 395.19,183.26 395.52,182.42 395.86,181.58 396.2,180.72 396.53,179.85 396.87,178.98 397.2,178.11 397.54,177.22 397.88,176.34 398.21,175.45 398.55,174.56 398.88,173.67 399.22,172.78 399.56,171.9 399.89,171.01 400.23,170.14 400.56,169.26 400.9,168.4 401.24,167.54 401.57,166.7 401.91,165.86 402.24,165.04 402.58,164.23 402.92,163.44 403.25,162.66 403.59,161.9 403.92,161.16 404.26,160.44 404.6,159.75 404.93,159.07 405.27,158.42 405.6,157.8 405.94,157.2 406.27,156.63 406.61,156.09 406.95,155.58 407.28,155.1 407.62,154.65 407.95,154.23 408.29,153.85 408.63,153.5 408.96,153.19 409.3,152.91 409.63,152.67 409.97,152.46 410.31,152.29 410.64,152.16 410.98,152.07 411.31,152.01 411.65,151.99 411.99,152.01 412.32,152.07 412.66,152.16 412.99,152.29 413.33,152.46 413.67,152.67 414,152.91 414.34,153.19 414.67,153.5 415.01,153.85 415.35,154.23 415.68,154.65 416.02,155.1 416.35,155.58 416.69,156.09 417.02,156.63 417.36,157.2 417.7,157.8 418.03,158.42 418.37,159.07 418.7,159.75 419.04,160.44 419.38,161.16 419.71,161.9 420.05,162.66 420.38,163.44 420.72,164.23 421.06,165.04 421.39,165.86 421.73,166.7 422.06,167.54 422.4,168.4 422.74,169.26 423.07,170.14 423.41,171.01 423.74,171.9 424.08,172.78 424.42,173.67 424.75,174.56 425.09,175.45 425.42,176.34 425.76,177.22 426.1,178.11 426.43,178.98 426.77,179.85 427.1,180.72 427.44,181.58 427.77,182.42 428.11,183.26 428.45,184.09 428.78,184.91 429.12,185.72 429.45,186.51 429.79,187.29 430.13,188.06 430.46,188.82 430.8,189.56 431.13,190.28 431.47,190.99 431.81,191.69 432.14,192.36 432.48,193.03 432.81,193.67 433.15,194.3 433.49,194.91 433.82,195.51 434.16,196.09 434.49,196.65 434.83,197.19 435.17,197.72 435.5,198.23 435.84,198.73 436.17,199.21 436.51,199.67 436.85,200.11 437.18,200.54 437.52,200.96 437.85,201.36 438.19,201.74 438.52,202.11 438.86,202.46 439.2,202.8 439.53,203.13 439.87,203.44 440.2,203.74 440.54,204.02 440.88,204.29 441.21,204.55 441.55,204.8 441.88,205.04 442.22,205.26 442.56,205.48 442.89,205.68 443.23,205.88 443.56,206.06 443.9,206.23 444.24,206.4 444.57,206.56 444.91,206.7 445.24,206.85 445.58,206.98 445.92,207.1 446.25,207.22 446.59,207.33 446.92,207.44 447.26,207.54 447.6,207.63 447.93,207.72 448.27,207.8 448.6,207.88 448.94,207.95 449.27,208.02 449.61,208.08 449.95,208.14 450.28,208.2 450.62,208.25 450.95,208.3 451.29,208.34 451.63,208.38 451.96,208.42 452.3,208.46 452.63,208.49 452.97,208.53 453.31,208.56 453.64,208.58 453.98,208.61 454.31,208.63 454.65,208.65 454.99,208.67 455.32,208.69 455.66,208.71 455.99,208.73 456.33,208.74 456.67,208.75 457,208.77 457.34,208.78 457.67,208.79 458.01,208.8 458.35,208.81 458.68,208.82 459.02,208.82 459.35,208.83 459.69,208.84 460.02,208.84 460.36,208.85 460.7,208.85 461.03,208.86 461.37,208.86 461.7,208.86 462.04,208.87 462.38,208.87 462.71,208.87 463.05,208.88 463.38,208.88 463.72,208.88 464.06,208.88 464.39,208.88 464.73,208.89 465.06,208.89 465.4,208.89 465.4,208.9" fill="#1f77b4"/>
<polyline points="357.9,208.88 358.24,208.88 358.57,208.88 358.91,208.87 359.24,208.87 359.58,208.87 359.92,208.86 360.25,208.86 360.59,208.86 360.92,208.85 361.26,208.85 361.6,208.84 361.93,208.84 362.27,208.83 362.6,208.82 362.94,208.82 363.27,208.81 363.61,208.8 363.95,208.79 364.28,208.78 364.62,208.77 364.95,208.76 365.29,208.75 365.63,208.73 365.96,208.72 366.3,208.7 366.63,208.69 366.97,208.67 367.31,208.65 367.64,208.62 367.98,208.6 368.31,208.58 368.65,208.55 368.99,208.52 369.32,208.49 369.66,208.46 369.99,208.42 370.33,208.38 370.67,208.34 371,208.29 371.34,208.25 371.67,208.2 372.01,208.14 372.35,208.09 372.68,208.02 373.02,207.96 373.35,207.89 373.69,207.81 374.02,207.73 374.36,207.65 374.7,207.56 375.03,207.47 375.37,207.37 375.7,207.26 376.04,207.15 376.38,207.03 376.71,206.9 377.05,206.77 377.38,206.63 377.72,206.48 378.06,206.32 378.39,206.15 378.73,205.98 379.06,205.8 379.4,205.6 379.74,205.4 380.07,205.19 380.41,204.96 380.74,204.73 381.08,204.48 381.42,204.23 381.75,203.96 382.09,203.68 382.42,203.38 382.76,203.08 383.1,202.76 383.43,202.43 383.77,202.08 384.1,201.72 384.44,201.34 384.77,200.95 385.11,200.55 385.45,200.13 385.78,199.69 386.12,199.24 386.45,198.77 386.79,198.29 387.13,197.79 387.46,197.28 387.8,196.75 388.13,196.2 388.47,195.64 388.81,195.06 389.14,194.46 389.48,193.85 389.81,193.22 390.15,192.57 390.49,191.91 390.82,191.23 391.16,190.54 391.49,189.84 391.83,189.11 392.17,188.38 392.5,187.62 392.84,186.86 393.17,186.08 393.51,185.29 393.85,184.49 394.18,183.67 394.52,182.85 394.85,182.01 395.19,181.17 395.52,180.32 395.86,179.45 396.2,178.59 396.53,177.71 396.87,176.83 397.2,175.95 397.54,175.06 397.88,174.17 398.21,173.28 398.55,172.39 398.88,171.5 399.22,170.62 399.56,169.73 399.89,168.85 400.23,167.98 400.56,167.11 400.9,166.26 401.24,165.41 401.57,164.57 401.91,163.75 402.24,162.94 402.58,162.14 402.92,161.36 403.25,160.59 403.59,159.85 403.92,159.12 404.26,158.42 404.6,157.74 404.93,157.08 405.27,156.44 405.6,155.83 405.94,155.25 406.27,154.69 406.61,154.16 406.95,153.66 407.28,153.2 407.62,152.76 407.95,152.35 408.29,151.98 408.63,151.64 408.96,151.34 409.3,151.07 409.63,150.83 409.97,150.63 410.31,150.47 410.64,150.34 410.98,150.25 411.31,150.19 411.65,150.18 411.99,150.19 412.32,150.25 412.66,150.34 412.99,150.47 413.33,150.63 413.67,150.83 414,151.07 414.34,151.34 414.67,151.64 415.01,151.98 415.35,152.35 415.68,152.76 416.02,153.2 416.35,153.66 416.69,154.16 417.02,154.69 417.36,155.25 417.7,155.83 418.03,156.44 418.37,157.08 418.7,157.74 419.04,158.42 419.38,159.12 419.71,159.85 420.05,160.59 420.38,161.36 420.72,162.14 421.06,162.94 421.39,163.75 421.73,164.57 422.06,165.41 422.4,166.26 422.74,167.11 423.07,167.98 423.41,168.85 423.74,169.73 424.08,170.62 424.42,171.5 424.75,172.39 425.09,173.28 425.42,174.17 425.76,175.06 426.1,175.95 426.43,176.83 426.77,177.71 427.1,178.59 427.44,179.45 427.77,180.32 428.11,181.17 428.45,182.01 428.78,182.85 429.12,183.67 429.45,184.49 429.79,185.29 430.13,186.08 430.46,186.86 430.8,187.62 431.13,188.38 431.47,189.11 431.81,189.84 432.14,190.54 432.48,191.23 432.81,191.91 433.15,192.57 433.49,193.22 433.82,193.85 434.16,194.46 434.49,195.06 434.83,195.64 435.17,196.2 435.5,196.75 435.84,197.28 436.17,197.79 436.51,198.29 436.85,198.77 437.18,199.24 437.52,199.69 437.85,200.13 438.19,200.55 438.52,200.95 438.86,201.34 439.2,201.72 439.53,202.08 439.87,202.43 440.2,202.76 440.54,203.08 440.88,203.38 441.21,203.68 441.55,203.96 441.88,204.23 442.22,204.48 442.56,204.73 442.89,204.96 443.23,205.19 443.56,205.4 443.9,205.6 444.24,205.8 444.57,205.98 444.91,206.15 445.24,206.32 445.58,206.48 445.92,206.63 446.25,206.77 446.59,206.9 446.92,207.03 447.26,207.15 447.6,207.26 447.93,207.37 448.27,207.47 448.6,207.56 448.94,207.65 449.27,207.73 449.61,207.81 449.95,207.89 450.28,207.96 450.62,208.02 450.95,208.09 451.29,208.14 451.63,208.2 451.96,208.25 452.3,208.29 452.63,208.34 452.97,208.38 453.31,208.42 453.64,208.46 453.98,208.49 454.31,208.52 454.65,208.55 454.99,208.58 455.32,208.6 455.66,208.62 455.99,208.65 456.33,208.67 456.67,208.69 457,208.7 457.34,208.72 457.67,208.73 458.01,208.75 458.35,208.76 458.68,208.77 459.02,208.78 459.35,208.79 459.69,208.8 460.02,208.81 460.36,208.82 460.7,208.82 461.03,208.83 461.37,208.84 461.7,208.84 462.04,208.85 462.38,208.85 462.71,208.86 463.05,208.86 463.38,208.86 463.72,208.87 464.06,208.87 464.39,208.87 464.73,208.88 465.06,208.88 465.4,208.88" fill="none" stroke="#ff7f0e" stroke-width="1.54"/>
<rect x="357.9" y="147.5" width="107.5" height="61.25" fill="none" stroke="#000" stroke-width="0.82"/>
<line x1="378.06" y1="208.75" x2="378.06" y2="212.34" stroke="#000" stroke-width="0.82"/>
<text transform="scale(1.04873,1)" x="349.48 356.71 362.99 366.12" y="224" font-size="10.76">−2.5</text>
<line x1="411.65" y1="208.75" x2="411.65" y2="212.34" stroke="#000" stroke-width="0.82"/>
<text transform="scale(1.00635,1)" x="401.2 407.56 410.92" y="224" font-size="10.76">0.0</text>
<line x1="445.24" y1="208.75" x2="445.24" y2="212.34" stroke="#000" stroke-width="0.82"/>
<text transform="scale(0.96418,1)" x="453.65 460.36 463.9" y="224" font-size="10.76">2.5</text>
<line x1="354.31" y1="208.9" x2="357.9" y2="208.9" stroke="#000" stroke-width="0.82"/>
<text transform="scale(1.00394,1)" x="343.91" y="213" font-size="10.76">0</text>
<line x1="354.31" y1="179.46" x2="357.9" y2="179.46" stroke="#000" stroke-width="0.82"/>
<text transform="scale(0.96769,1)" x="357.12" y="184" font-size="10.76">2</text>
<line x1="354.31" y1="150.02" x2="357.9" y2="150.02" stroke="#000" stroke-width="0.82"/>
<text transform="scale(1.00406,1)" x="343.76" y="154" font-size="10.76">4</text>
<text transform="scale(1.05568,1)" x="339.85 347.09 353.33" y="145" font-size="10.76">×10</text>
<text transform="scale(1.10097,1)" x="345.26 350.13" y="140" font-size="7.53">−1</text>
<polygon points="523.75,208.9 523.75,208.89 524.09,208.88 524.43,208.88 524.76,208.88 525.1,208.88 525.44,208.88 525.78,208.87 526.12,208.87 526.45,208.87 526.79,208.87 527.13,208.86 527.47,208.86 527.81,208.85 528.14,208.85 528.48,208.84 528.82,208.84 529.16,208.83 529.5,208.83 529.83,208.82 530.17,208.81 530.51,208.8 530.85,208.79 531.19,208.78 531.52,208.77 531.86,208.76 532.2,208.75 532.54,208.73 532.88,208.72 533.21,208.7 533.55,208.68 533.89,208.66 534.23,208.64 534.57,208.62 534.9,208.6 535.24,208.57 535.58,208.54 535.92,208.51 536.25,208.48 536.59,208.45 536.93,208.41 537.27,208.37 537.61,208.33 537.94,208.28 538.28,208.23 538.62,208.18 538.96,208.12 539.3,208.06 539.63,208 539.97,207.93 540.31,207.86 540.65,207.78 540.99,207.7 541.32,207.61 541.66,207.51 542,207.41 542.34,207.31 542.68,207.2 543.01,207.08 543.35,206.95 543.69,206.82 544.03,206.68 544.37,206.53 544.7,206.37 545.04,206.21 545.38,206.03 545.72,205.85 546.06,205.65 546.39,205.45 546.73,205.24 547.07,205.01 547.41,204.78 547.75,204.53 548.08,204.27 548.42,204 548.76,203.72 549.1,203.42 549.44,203.11 549.77,202.79 550.11,202.45 550.45,202.1 550.79,201.73 551.13,201.35 551.46,200.95 551.8,200.54 552.14,200.12 552.48,199.67 552.82,199.22 553.15,198.74 553.49,198.25 553.83,197.74 554.17,197.22 554.51,196.68 554.84,196.12 555.18,195.55 555.52,194.96 555.86,194.35 556.2,193.73 556.53,193.09 556.87,192.43 557.21,191.76 557.55,191.07 557.88,190.37 558.22,189.65 558.56,188.91 558.9,188.16 559.24,187.4 559.57,186.63 559.91,185.84 560.25,185.04 560.59,184.22 560.93,183.4 561.26,182.56 561.6,181.72 561.94,180.86 562.28,180 562.62,179.14 562.95,178.26 563.29,177.38 563.63,176.5 563.97,175.61 564.31,174.72 564.64,173.83 564.98,172.94 565.32,172.05 565.66,171.17 566,170.29 566.33,169.41 566.67,168.54 567.01,167.68 567.35,166.82 567.69,165.98 568.02,165.15 568.36,164.33 568.7,163.52 569.04,162.73 569.38,161.96 569.71,161.21 570.05,160.47 570.39,159.76 570.73,159.06 571.07,158.39 571.4,157.75 571.74,157.13 572.08,156.54 572.42,155.97 572.76,155.44 573.09,154.93 573.43,154.45 573.77,154.01 574.11,153.6 574.45,153.22 574.78,152.87 575.12,152.56 575.46,152.28 575.8,152.04 576.14,151.84 576.47,151.67 576.81,151.54 577.15,151.45 577.49,151.39 577.83,151.37 578.16,151.39 578.5,151.45 578.84,151.54 579.18,151.67 579.51,151.84 579.85,152.04 580.19,152.28 580.53,152.56 580.87,152.87 581.2,153.22 581.54,153.6 581.88,154.01 582.22,154.45 582.56,154.93 582.89,155.44 583.23,155.97 583.57,156.54 583.91,157.13 584.25,157.75 584.58,158.39 584.92,159.06 585.26,159.76 585.6,160.47 585.94,161.21 586.27,161.96 586.61,162.73 586.95,163.52 587.29,164.33 587.63,165.15 587.96,165.98 588.3,166.82 588.64,167.68 588.98,168.54 589.32,169.41 589.65,170.29 589.99,171.17 590.33,172.05 590.67,172.94 591.01,173.83 591.34,174.72 591.68,175.61 592.02,176.5 592.36,177.38 592.7,178.26 593.03,179.14 593.37,180 593.71,180.86 594.05,181.72 594.39,182.56 594.72,183.4 595.06,184.22 595.4,185.04 595.74,185.84 596.08,186.63 596.41,187.4 596.75,188.16 597.09,188.91 597.43,189.65 597.77,190.37 598.1,191.07 598.44,191.76 598.78,192.43 599.12,193.09 599.46,193.73 599.79,194.35 600.13,194.96 600.47,195.55 600.81,196.12 601.14,196.68 601.48,197.22 601.82,197.74 602.16,198.25 602.5,198.74 602.83,199.22 603.17,199.67 603.51,200.12 603.85,200.54 604.19,200.95 604.52,201.35 604.86,201.73 605.2,202.1 605.54,202.45 605.88,202.79 606.21,203.11 606.55,203.42 606.89,203.72 607.23,204 607.57,204.27 607.9,204.53 608.24,204.78 608.58,205.01 608.92,205.24 609.26,205.45 609.59,205.65 609.93,205.85 610.27,206.03 610.61,206.21 610.95,206.37 611.28,206.53 611.62,206.68 611.96,206.82 612.3,206.95 612.64,207.08 612.97,207.2 613.31,207.31 613.65,207.41 613.99,207.51 614.33,207.61 614.66,207.7 615,207.78 615.34,207.86 615.68,207.93 616.02,208 616.35,208.06 616.69,208.12 617.03,208.18 617.37,208.23 617.71,208.28 618.04,208.33 618.38,208.37 618.72,208.41 619.06,208.45 619.4,208.48 619.73,208.51 620.07,208.54 620.41,208.57 620.75,208.6 621.09,208.62 621.42,208.64 621.76,208.66 622.1,208.68 622.44,208.7 622.77,208.72 623.11,208.73 623.45,208.75 623.79,208.76 624.13,208.77 624.46,208.78 624.8,208.79 625.14,208.8 625.48,208.81 625.82,208.82 626.15,208.83 626.49,208.83 626.83,208.84 627.17,208.84 627.51,208.85 627.84,208.85 628.18,208.86 628.52,208.86 628.86,208.87 629.2,208.87 629.53,208.87 629.87,208.87 630.21,208.88 630.55,208.88 630.89,208.88 631.22,208.88 631.56,208.88 631.9,208.89 631.9,208.9" fill="#1f77b4"/>
<polyline points="523.75,208.88 524.09,208.88 524.43,208.88 524.76,208.87 525.1,208.87 525.44,208.87 525.78,208.86 526.12,208.86 526.45,208.86 526.79,208.85 527.13,208.85 527.47,208.84 527.81,208.84 528.14,208.83 528.48,208.82 528.82,208.82 529.16,208.81 529.5,208.8 529.83,208.79 530.17,208.78 530.51,208.77 530.85,208.76 531.19,208.75 531.52,208.73 531.86,208.72 532.2,208.7 532.54,208.69 532.88,208.67 533.21,208.65 533.55,208.62 533.89,208.6 534.23,208.58 534.57,208.55 534.9,208.52 535.24,208.49 535.58,208.46 535.92,208.42 536.25,208.38 536.59,208.34 536.93,208.29 537.27,208.25 537.61,208.2 537.94,208.14 538.28,208.09 538.62,208.02 538.96,207.96 539.3,207.89 539.63,207.81 539.97,207.73 540.31,207.65 540.65,207.56 540.99,207.47 541.32,207.37 541.66,207.26 542,207.15 542.34,207.03 542.68,206.9 543.01,206.77 543.35,206.63 543.69,206.48 544.03,206.32 544.37,206.15 544.7,205.98 545.04,205.8 545.38,205.6 545.72,205.4 546.06,205.19 546.39,204.96 546.73,204.73 547.07,204.48 547.41,204.23 547.75,203.96 548.08,203.68 548.42,203.38 548.76,203.08 549.1,202.76 549.44,202.43 549.77,202.08 550.11,201.72 550.45,201.34 550.79,200.95 551.13,200.55 551.46,200.13 551.8,199.69 552.14,199.24 552.48,198.77 552.82,198.29 553.15,197.79 553.49,197.28 553.83,196.75 554.17,196.2 554.51,195.64 554.84,195.06 555.18,194.46 555.52,193.85 555.86,193.22 556.2,192.57 556.53,191.91 556.87,191.23 557.21,190.54 557.55,189.84 557.88,189.11 558.22,188.38 558.56,187.62 558.9,186.86 559.24,186.08 559.57,185.29 559.91,184.49 560.25,183.67 560.59,182.85 560.93,182.01 561.26,181.17 561.6,180.32 561.94,179.45 562.28,178.59 562.62,177.71 562.95,176.83 563.29,175.95 563.63,175.06 563.97,174.17 564.31,173.28 564.64,172.39 564.98,171.5 565.32,170.62 565.66,169.73 566,168.85 566.33,167.98 566.67,167.11 567.01,166.26 567.35,165.41 567.69,164.57 568.02,163.75 568.36,162.94 568.7,162.14 569.04,161.36 569.38,160.59 569.71,159.85 570.05,159.12 570.39,158.42 570.73,157.74 571.07,157.08 571.4,156.44 571.74,155.83 572.08,155.25 572.42,154.69 572.76,154.16 573.09,153.66 573.43,153.2 573.77,152.76 574.11,152.35 574.45,151.98 574.78,151.64 575.12,151.34 575.46,151.07 575.8,150.83 576.14,150.63 576.47,150.47 576.81,150.34 577.15,150.25 577.49,150.19 577.83,150.18 578.16,150.19 578.5,150.25 578.84,150.34 579.18,150.47 579.51,150.63 579.85,150.83 580.19,151.07 580.53,151.34 580.87,151.64 581.2,151.98 581.54,152.35 581.88,152.76 582.22,153.2 582.56,153.66 582.89,154.16 583.23,154.69 583.57,155.25 583.91,155.83 584.25,156.44 584.58,157.08 584.92,157.74 585.26,158.42 585.6,159.12 585.94,159.85 586.27,160.59 586.61,161.36 586.95,162.14 587.29,162.94 587.63,163.75 587.96,164.57 588.3,165.41 588.64,166.26 588.98,167.11 589.32,167.98 589.65,168.85 589.99,169.73 590.33,170.62 590.67,171.5 591.01,172.39 591.34,173.28 591.68,174.17 592.02,175.06 592.36,175.95 592.7,176.83 593.03,177.71 593.37,178.59 593.71,179.45 594.05,180.32 594.39,181.17 594.72,182.01 595.06,182.85 595.4,183.67 595.74,184.49 596.08,185.29 596.41,186.08 596.75,186.86 597.09,187.62 597.43,188.38 597.77,189.11 598.1,189.84 598.44,190.54 598.78,191.23 599.12,191.91 599.46,192.57 599.79,193.22 600.13,193.85 600.47,194.46 600.81,195.06 601.14,195.64 601.48,196.2 601.82,196.75 602.16,197.28 602.5,197.79 602.83,198.29 603.17,198.77 603.51,199.24 603.85,199.69 604.19,200.13 604.52,200.55 604.86,200.95 605.2,201.34 605.54,201.72 605.88,202.08 606.21,202.43 606.55,202.76 606.89,203.08 607.23,203.38 607.57,203.68 607.9,203.96 608.24,204.23 608.58,204.48 608.92,204.73 609.26,204.96 609.59,205.19 609.93,205.4 610.27,205.6 610.61,205.8 610.95,205.98 611.28,206.15 611.62,206.32 611.96,206.48 612.3,206.63 612.64,206.77 612.97,206.9 613.31,207.03 613.65,207.15 613.99,207.26 614.33,207.37 614.66,207.47 615,207.56 615.34,207.65 615.68,207.73 616.02,207.81 616.35,207.89 616.69,207.96 617.03,208.02 617.37,208.09 617.71,208.14 618.04,208.2 618.38,208.25 618.72,208.29 619.06,208.34 619.4,208.38 619.73,208.42 620.07,208.46 620.41,208.49 620.75,208.52 621.09,208.55 621.42,208.58 621.76,208.6 622.1,208.62 622.44,208.65 622.77,208.67 623.11,208.69 623.45,208.7 623.79,208.72 624.13,208.73 624.46,208.75 624.8,208.76 625.14,208.77 625.48,208.78 625.82,208.79 626.15,208.8 626.49,208.81 626.83,208.82 627.17,208.82 627.51,208.83 627.84,208.84 628.18,208.84 628.52,208.85 628.86,208.85 629.2,208.86 629.53,208.86 629.87,208.86 630.21,208.87 630.55,208.87 630.89,208.87 631.22,208.88 631.56,208.88 631.9,208.88" fill="none" stroke="#ff7f0e" stroke-width="1.54"/>
<rect x="523.75" y="147.5" width="108.15" height="61.25" fill="none" stroke="#000" stroke-width="0.82"/>
<line x1="544.03" y1="208.75" x2="544.03" y2="212.34" stroke="#000" stroke-width="0.82"/>
<text transform="scale(1.04873,1)" x="507.74 514.97 521.25 524.39" y="224" font-size="10.76">−2.5</text>
<line x1="577.83" y1="208.75" x2="577.83" y2="212.34" stroke="#000" stroke-width="0.82"/>
<text transform="scale(1.00635,1)" x="566.33 572.68 576.05" y="224" font-size="10.76">0.0</text>
<line x1="611.62" y1="208.75" x2="611.62" y2="212.34" stroke="#000" stroke-width="0.82"/>
<text transform="scale(0.96418,1)" x="626.21 632.92 636.46" y="224" font-size="10.76">2.5</text>
<line x1="520.16" y1="208.9" x2="523.75" y2="208.9" stroke="#000" stroke-width="0.82"/>
<text transform="scale(1.00394,1)" x="509.11" y="213" font-size="10.76">0</text>
<line x1="520.16" y1="179.46" x2="523.75" y2="179.46" stroke="#000" stroke-width="0.82"/>
<text transform="scale(0.96769,1)" x="528.51" y="184" font-size="10.76">2</text>
<line x1="520.16" y1="150.02" x2="523.75" y2="150.02" stroke="#000" stroke-width="0.82"/>
<text transform="scale(1.00406,1)" x="508.94" y="154" font-size="10.76">4</text>
<text transform="scale(1.05568,1)" x="496.95 504.19 510.43" y="145" font-size="10.76">×10</text>
<text transform="scale(1.10097,1)" x="495.9 500.77" y="140" font-size="7.53">−1</text>
<text transform="scale(1.05631,1)" x="39.26" y="238" font-size="10.76" font-style="italic">z</text>
<text transform="scale(1.02296,1)" x="46.21" y="234" font-size="7.53" font-style="italic">n</text>
<text transform="scale(1.27901,1)" x="36.86" y="240" font-size="7.53" font-style="italic">τ</text>
<text transform="scale(1.02411,1)" x="53.58 60.46 63.94 67.11 72.78 76.37 82.66" y="238" font-size="10.76">at step</text>
<text transform="scale(1.28940,1)" x="73.29" y="238" font-size="10.76">τ</text>
<text transform="scale(1.22709,1)" x="83.17" y="238" font-size="10.76">=</text>
<text transform="scale(0.95885,1)" x="116.51" y="238" font-size="10.76">1</text>
<text transform="scale(1.05631,1)" x="193.19" y="238" font-size="10.76" font-style="italic">z</text>
<text transform="scale(1.02296,1)" x="205.16" y="234" font-size="7.53" font-style="italic">n</text>
<text transform="scale(1.27901,1)" x="163.99" y="240" font-size="7.53" font-style="italic">τ</text>
<text transform="scale(1.02411,1)" x="212.35 219.23 222.72 225.88 231.55 235.14 241.44" y="238" font-size="10.76">at step</text>
<text transform="scale(1.28940,1)" x="199.4" y="238" font-size="10.76">τ</text>
<text transform="scale(1.22709,1)" x="215.68" y="238" font-size="10.76">=</text>
<text transform="scale(1.00925,1)" x="272.71 279.18" y="238" font-size="10.76">48</text>
<text transform="scale(1.05631,1)" x="350.72" y="238" font-size="10.76" font-style="italic">z</text>
<text transform="scale(1.02296,1)" x="367.83" y="234" font-size="7.53" font-style="italic">n</text>
<text transform="scale(1.27901,1)" x="294.09" y="240" font-size="7.53" font-style="italic">τ</text>
<text transform="scale(1.02411,1)" x="374.83 381.71 385.2 388.37 394.03 397.62 403.92" y="238" font-size="10.76">at step</text>
<text transform="scale(1.28940,1)" x="328.45" y="238" font-size="10.76">τ</text>
<text transform="scale(1.22709,1)" x="351.28" y="238" font-size="10.76">=</text>
<text transform="scale(1.03800,1)" x="425.22 431.53" y="238" font-size="10.76">96</text>
<text transform="scale(1.05631,1)" x="522.54" y="238" font-size="10.76" font-style="italic">z</text>
<text transform="scale(1.02296,1)" x="545.25" y="234" font-size="7.53" font-style="italic">n</text>
<text transform="scale(1.27901,1)" x="436" y="240" font-size="7.53" font-style="italic">τ</text>
<text transform="scale(1.02920,1)" x="550.39 553.56 560.04 563.7 566.54 573.15 575.92" y="238" font-size="10.76">for all</text>
<text transform="scale(1.28940,1)" x="463.94" y="238" font-size="10.76">τ</text>
<clipPath id="bclip1"><rect x="25.6" y="259.6" width="274" height="61.6"/></clipPath>
<g clip-path="url(#bclip1)">
<line x1="26.1" y1="319.5" x2="299.6" y2="319.5" stroke="#7a7a7a" stroke-width="1.3" stroke-dasharray="5.8 2.4"/>
<polyline points="25.6,315.8 28.48,317.5 31.37,316.7 34.25,318.1 37.13,312.8 40.02,312.2 42.9,313.1 45.78,313.4 48.66,310 51.55,315.3 54.43,313.9 57.31,312 60.2,315.1 63.08,314.4 65.96,314.8 68.84,312.8 71.73,315.3 74.61,307.3 77.49,316.2 80.38,312.8 83.26,310.8 86.14,308.2 89.03,309.8 91.91,312.9 94.79,308.9 97.68,311.4 100.56,310.8 103.44,297.2 106.32,307 109.21,310.3 112.09,296.7 114.97,299.5 117.86,297.2 120.74,303.3 123.62,307.5 126.5,293 129.39,303.3 132.27,301.9 135.15,300.3 138.04,307.6 140.92,304.6 143.8,307.2 146.69,309.5 149.57,304.8 152.45,297.8 155.34,302 158.22,303.4 161.1,299.2 163.98,297.8 166.87,295 169.75,296.9 172.63,300.6 175.52,302 178.4,298.7 181.28,297.8 184.16,293.6 187.05,278.9 189.93,285.9 192.81,293.4 195.7,292.5 198.58,292 201.46,292 204.35,285 207.23,292.9 210.11,295.3 213,276.1 215.88,295.3 218.76,282.2 221.64,287.8 224.53,281.7 227.41,284.5 230.29,292 233.18,275.6 236.06,287.8 238.94,268.1 241.82,279 244.71,270.8 247.59,272.1 250.47,281 253.36,287.6 256.24,285.2 259.12,284.3 262.01,265.6 264.89,287.1 267.77,280.1 270.66,274 273.54,277.3 276.42,276.3 279.3,276.8 282.19,263.7 285.07,274.5 287.95,268.4 290.84,262.3 293.72,269.3 296.6,266 299.49,281.5" fill="none" stroke="#1f77b4" stroke-width="1.54" stroke-linejoin="round"/>
</g>
<rect x="25.6" y="259.6" width="274" height="61.6" fill="none" stroke="#000" stroke-width="0.82"/>
<line x1="25.6" y1="321.2" x2="25.6" y2="324.79" stroke="#000" stroke-width="0.82"/>
<text transform="scale(1.00394,1)" x="22.51" y="336" font-size="10.76">0</text>
<line x1="83.26" y1="321.2" x2="83.26" y2="324.79" stroke="#000" stroke-width="0.82"/>
<text transform="scale(0.98625,1)" x="77.95 84.7" y="336" font-size="10.76">20</text>
<line x1="140.92" y1="321.2" x2="140.92" y2="324.79" stroke="#000" stroke-width="0.82"/>
<text transform="scale(1.00400,1)" x="134.2 140.7" y="336" font-size="10.76">40</text>
<line x1="198.58" y1="321.2" x2="198.58" y2="324.79" stroke="#000" stroke-width="0.82"/>
<text transform="scale(1.02119,1)" x="188.25 194.64" y="336" font-size="10.76">60</text>
<line x1="256.24" y1="321.2" x2="256.24" y2="324.79" stroke="#000" stroke-width="0.82"/>
<text transform="scale(1.00933,1)" x="247.64 254.1" y="336" font-size="10.76">80</text>
<line x1="22.01" y1="319.4" x2="25.6" y2="319.4" stroke="#000" stroke-width="0.82"/>
<text transform="scale(1.00394,1)" x="12.91" y="324" font-size="10.76">0</text>
<line x1="22.01" y1="291.9" x2="25.6" y2="291.9" stroke="#000" stroke-width="0.82"/>
<text transform="scale(0.96769,1)" x="13.73" y="296" font-size="10.76">2</text>
<line x1="22.01" y1="264.3" x2="25.6" y2="264.3" stroke="#000" stroke-width="0.82"/>
<text transform="scale(1.00406,1)" x="12.8" y="269" font-size="10.76">4</text>
<text transform="scale(1.05568,1)" x="25.07 32.32 38.56" y="256" font-size="10.76">×10</text>
<text transform="scale(1.09722,1)" x="43.59 48.53" y="252" font-size="7.53">−3</text>
<g transform="translate(7.7,290.7) rotate(-90)"><text transform="scale(0.96888,1)" x="-6.78 0.21" y="0" font-size="10.76">KL</text></g>
<text transform="scale(1.27901,1)" x="125.07" y="351" font-size="10.76" font-style="italic">τ</text>
<clipPath id="bclip2"><rect x="357.9" y="259.6" width="274" height="61.6"/></clipPath>
<g clip-path="url(#bclip2)">
<line x1="358.4" y1="318.3" x2="631.9" y2="318.3" stroke="#7a7a7a" stroke-width="1.3" stroke-dasharray="5.8 2.4"/>
<polyline points="357.9,313.1 360.78,313.1 363.67,309.6 366.55,312.4 369.43,302.8 372.31,301.1 375.2,300 378.08,299.5 380.96,294.4 383.85,303.3 386.73,302.3 389.61,304.2 392.5,303.7 395.38,301.7 398.26,302.8 401.14,307.5 404.03,309.6 406.91,292 409.79,304.7 412.68,300.8 415.56,294.3 418.44,291.4 421.33,301.7 424.21,303.1 427.09,292.3 429.97,296.6 432.86,295.6 435.74,297.5 438.62,290.9 441.51,294.7 444.39,296.1 447.27,296.6 450.16,295.2 453.04,291.9 455.92,293.7 458.8,290.9 461.69,291.9 464.57,285.3 467.45,287.2 470.34,291.9 473.22,288.2 476.1,292.8 478.99,294.2 481.87,291 484.75,285.3 487.63,286.3 490.52,289.6 493.4,290.5 496.28,283.9 499.17,289.6 502.05,283 504.93,284.4 507.82,286.3 510.7,283 513.58,283.5 516.46,283 519.35,273.6 522.23,282.7 525.11,279.2 528,280.2 530.88,279.2 533.76,278.3 536.65,271.7 539.53,278.3 542.41,284.8 545.29,268.9 548.18,282.5 551.06,274.1 553.94,275.9 556.83,270.3 559.71,275.5 562.59,279.2 565.48,267 568.36,275.5 571.24,263.3 574.12,270 577.01,264.6 579.89,271.1 582.77,278.1 585.66,280.3 588.54,276.7 591.42,275.3 594.31,265.5 597.19,278.1 600.07,273 602.95,267.8 605.84,269.7 608.72,270.2 611.6,272.5 614.49,262.2 617.37,272.1 620.25,269.7 623.14,270.2 626.02,265.5 628.9,267.4 631.78,273.5" fill="none" stroke="#1f77b4" stroke-width="1.54" stroke-linejoin="round"/>
</g>
<rect x="357.9" y="259.6" width="274" height="61.6" fill="none" stroke="#000" stroke-width="0.82"/>
<line x1="357.9" y1="321.2" x2="357.9" y2="324.79" stroke="#000" stroke-width="0.82"/>
<text transform="scale(1.00394,1)" x="353.5" y="336" font-size="10.76">0</text>
<line x1="415.56" y1="321.2" x2="415.56" y2="324.79" stroke="#000" stroke-width="0.82"/>
<text transform="scale(0.98625,1)" x="414.88 421.63" y="336" font-size="10.76">20</text>
<line x1="473.22" y1="321.2" x2="473.22" y2="324.79" stroke="#000" stroke-width="0.82"/>
<text transform="scale(1.00400,1)" x="465.18 471.68" y="336" font-size="10.76">40</text>
<line x1="530.88" y1="321.2" x2="530.88" y2="324.79" stroke="#000" stroke-width="0.82"/>
<text transform="scale(1.02119,1)" x="513.66 520.05" y="336" font-size="10.76">60</text>
<line x1="588.54" y1="321.2" x2="588.54" y2="324.79" stroke="#000" stroke-width="0.82"/>
<text transform="scale(1.00933,1)" x="576.87 583.33" y="336" font-size="10.76">80</text>
<line x1="354.31" y1="318.25" x2="357.9" y2="318.25" stroke="#000" stroke-width="0.82"/>
<text transform="scale(0.99253,1)" x="331.42 337.89 341.32 347.89" y="322" font-size="10.76">1.00</text>
<line x1="354.31" y1="294.3" x2="357.9" y2="294.3" stroke="#000" stroke-width="0.82"/>
<text transform="scale(0.97440,1)" x="337.86 344.43 347.95 354.61" y="299" font-size="10.76">1.05</text>
<line x1="354.31" y1="270.4" x2="357.9" y2="270.4" stroke="#000" stroke-width="0.82"/>
<text transform="scale(0.97862,1)" x="336.17 342.72 346.17 352.88" y="275" font-size="10.76">1.10</text>
<g transform="translate(323.0,0) rotate(-90)"><text transform="scale(1.05631,1)" x="-300.89" y="0" font-size="10.76" font-style="italic">z</text><text transform="scale(1.27901,1)" x="-244.14" y="2" font-size="7.53" font-style="italic">τ</text><text transform="scale(0.97634,1)" x="-312.57 -306.94 -299.77 -295.76 -293.28 -286.32 -279.95 -273.99" y="0" font-size="10.76">variance</text></g>
<text transform="scale(1.27901,1)" x="384.53" y="351" font-size="10.76" font-style="italic">τ</text>
<rect x="25.5" y="366.6" width="3" height="1.4" fill="#2a2a2a"/>
<rect x="53" y="366.6" width="2.5" height="1.4" fill="#2a2a2a"/>
<rect x="82" y="366.6" width="3.5" height="1.4" fill="#2a2a2a"/>
<rect x="88" y="366.6" width="3" height="1.4" fill="#2a2a2a"/>
<rect x="118.5" y="366.6" width="2" height="1.4" fill="#2a2a2a"/>
<rect x="163" y="366.6" width="3.5" height="1.4" fill="#2a2a2a"/>
<rect x="176" y="366.6" width="3" height="1.4" fill="#2a2a2a"/>
<rect x="188" y="366.6" width="4" height="1.4" fill="#2a2a2a"/>
<rect x="218" y="366.6" width="2" height="1.4" fill="#2a2a2a"/>
<rect x="243" y="366.6" width="9" height="1.4" fill="#2a2a2a"/>
<rect x="273" y="366.6" width="2" height="1.4" fill="#2a2a2a"/>
<rect x="283" y="366.6" width="11" height="1.4" fill="#2a2a2a"/>
<rect x="297" y="366.6" width="7" height="1.4" fill="#2a2a2a"/>
<rect x="306" y="366.6" width="10" height="1.4" fill="#2a2a2a"/>
<rect x="424" y="366.6" width="4" height="1.4" fill="#2a2a2a"/>
<rect x="445" y="366.6" width="2" height="1.4" fill="#2a2a2a"/>
<rect x="499" y="366.6" width="2" height="1.4" fill="#2a2a2a"/>
<rect x="512" y="366.6" width="2" height="1.4" fill="#2a2a2a"/>
<rect x="544" y="366.6" width="2" height="1.4" fill="#2a2a2a"/>
<rect x="554" y="366.6" width="2" height="1.4" fill="#2a2a2a"/>
<rect x="573" y="366.6" width="2" height="1.4" fill="#2a2a2a"/>
<rect x="591" y="366.6" width="9" height="1.4" fill="#2a2a2a"/>
<rect x="637" y="366.6" width="3" height="1.4" fill="#2a2a2a"/>
</svg></body></html>
